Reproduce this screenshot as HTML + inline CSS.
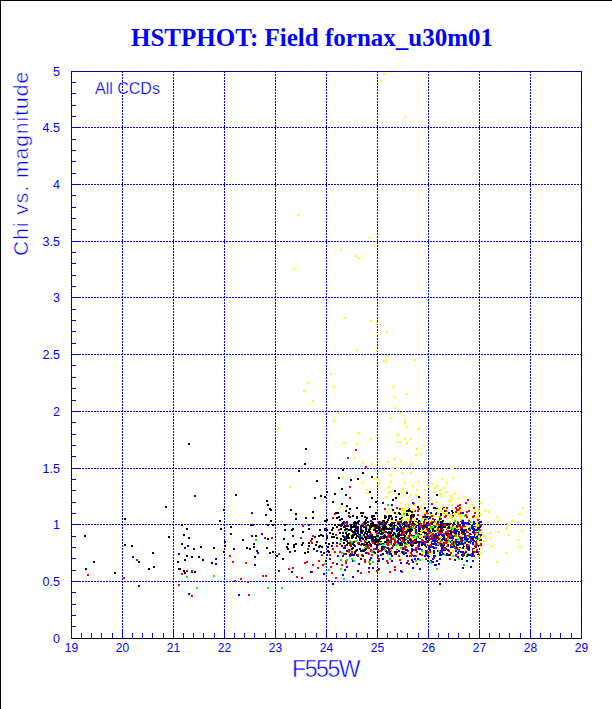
<!DOCTYPE html>
<html><head><meta charset="utf-8"><style>
html,body{margin:0;padding:0;background:#fff;width:612px;height:709px;overflow:hidden;position:relative}
.t{position:absolute;white-space:nowrap;color:#0000ff}
#all{-webkit-text-stroke:0.25px #fff}
#xlab,#ylab{-webkit-text-stroke:0.45px #fff}
#title{left:0;width:624px;text-align:center;top:23px;font-family:"Liberation Serif",serif;font-weight:bold;font-size:25px;line-height:30px}
.yl{position:absolute;left:19px;width:41px;text-align:right;font-family:"Liberation Sans",sans-serif;font-size:12.5px;line-height:16px;color:#0000ff}
.xl{position:absolute;top:640px;width:41px;text-align:center;font-family:"Liberation Sans",sans-serif;font-size:12px;line-height:16px;color:#0000ff}
#all{left:95px;top:79px;font-family:"Liberation Sans",sans-serif;font-size:16px;line-height:20px}
#xlab{left:292px;top:656px;font-family:"Liberation Sans",sans-serif;font-size:23px;line-height:26px;letter-spacing:-1.4px}
#ylab{left:9px;top:256px;transform-origin:0 0;transform:rotate(-90deg);font-family:"Liberation Sans",sans-serif;font-size:21px;line-height:24px;letter-spacing:1px}
</style></head><body>
<svg width="612" height="709" shape-rendering="crispEdges" style="position:absolute;left:0;top:0"><rect x="0" y="0" width="612" height="1" fill="#000"/><rect x="0" y="0" width="1" height="709" fill="#000"/><rect x="71" y="71" width="511" height="1" fill="#000"/><rect x="71" y="71" width="1" height="568" fill="#000"/><rect x="581" y="71" width="1" height="568" fill="#000"/><rect x="71" y="638" width="511" height="1" fill="#000"/><path d="M71.5 71V638M122.5 71V638M173.5 71V638M224.5 71V638M275.5 71V638M326.5 71V638M377.5 71V638M428.5 71V638M479.5 71V638M530.5 71V638M581.5 71V638" stroke="#0000ff" stroke-width="1" stroke-dasharray="2 1" stroke-dashoffset="0" fill="none"/><path d="M71 581.5H582M71 524.5H582M71 468.5H582M71 411.5H582M71 354.5H582M71 297.5H582M71 241.5H582M71 184.5H582M71 127.5H582M71 71.5H582" stroke="#0000ff" stroke-width="1" stroke-dasharray="2 1" stroke-dashoffset="1" fill="none"/><g fill="#0000ff"><rect x="71" y="626" width="5" height="1"/><rect x="71" y="615" width="5" height="1"/><rect x="71" y="604" width="5" height="1"/><rect x="71" y="592" width="5" height="1"/><rect x="71" y="581" width="10" height="1"/><rect x="71" y="570" width="5" height="1"/><rect x="71" y="558" width="5" height="1"/><rect x="71" y="547" width="5" height="1"/><rect x="71" y="536" width="5" height="1"/><rect x="71" y="524" width="10" height="1"/><rect x="71" y="513" width="5" height="1"/><rect x="71" y="502" width="5" height="1"/><rect x="71" y="490" width="5" height="1"/><rect x="71" y="479" width="5" height="1"/><rect x="71" y="468" width="10" height="1"/><rect x="71" y="456" width="5" height="1"/><rect x="71" y="445" width="5" height="1"/><rect x="71" y="434" width="5" height="1"/><rect x="71" y="422" width="5" height="1"/><rect x="71" y="411" width="10" height="1"/><rect x="71" y="400" width="5" height="1"/><rect x="71" y="388" width="5" height="1"/><rect x="71" y="377" width="5" height="1"/><rect x="71" y="365" width="5" height="1"/><rect x="71" y="354" width="10" height="1"/><rect x="71" y="343" width="5" height="1"/><rect x="71" y="331" width="5" height="1"/><rect x="71" y="320" width="5" height="1"/><rect x="71" y="309" width="5" height="1"/><rect x="71" y="297" width="10" height="1"/><rect x="71" y="286" width="5" height="1"/><rect x="71" y="275" width="5" height="1"/><rect x="71" y="263" width="5" height="1"/><rect x="71" y="252" width="5" height="1"/><rect x="71" y="241" width="10" height="1"/><rect x="71" y="229" width="5" height="1"/><rect x="71" y="218" width="5" height="1"/><rect x="71" y="207" width="5" height="1"/><rect x="71" y="195" width="5" height="1"/><rect x="71" y="184" width="10" height="1"/><rect x="71" y="173" width="5" height="1"/><rect x="71" y="161" width="5" height="1"/><rect x="71" y="150" width="5" height="1"/><rect x="71" y="139" width="5" height="1"/><rect x="71" y="127" width="10" height="1"/><rect x="71" y="116" width="5" height="1"/><rect x="71" y="105" width="5" height="1"/><rect x="71" y="93" width="5" height="1"/><rect x="71" y="82" width="5" height="1"/><rect x="71" y="71" width="10" height="1"/><rect x="71" y="629" width="1" height="10"/><rect x="81" y="633" width="1" height="6"/><rect x="91" y="633" width="1" height="6"/><rect x="101" y="633" width="1" height="6"/><rect x="112" y="633" width="1" height="6"/><rect x="122" y="629" width="1" height="10"/><rect x="132" y="633" width="1" height="6"/><rect x="142" y="633" width="1" height="6"/><rect x="152" y="633" width="1" height="6"/><rect x="163" y="633" width="1" height="6"/><rect x="173" y="629" width="1" height="10"/><rect x="183" y="633" width="1" height="6"/><rect x="193" y="633" width="1" height="6"/><rect x="203" y="633" width="1" height="6"/><rect x="214" y="633" width="1" height="6"/><rect x="224" y="629" width="1" height="10"/><rect x="234" y="633" width="1" height="6"/><rect x="244" y="633" width="1" height="6"/><rect x="254" y="633" width="1" height="6"/><rect x="265" y="633" width="1" height="6"/><rect x="275" y="629" width="1" height="10"/><rect x="285" y="633" width="1" height="6"/><rect x="295" y="633" width="1" height="6"/><rect x="305" y="633" width="1" height="6"/><rect x="316" y="633" width="1" height="6"/><rect x="326" y="629" width="1" height="10"/><rect x="336" y="633" width="1" height="6"/><rect x="346" y="633" width="1" height="6"/><rect x="356" y="633" width="1" height="6"/><rect x="367" y="633" width="1" height="6"/><rect x="377" y="629" width="1" height="10"/><rect x="387" y="633" width="1" height="6"/><rect x="397" y="633" width="1" height="6"/><rect x="407" y="633" width="1" height="6"/><rect x="418" y="633" width="1" height="6"/><rect x="428" y="629" width="1" height="10"/><rect x="438" y="633" width="1" height="6"/><rect x="448" y="633" width="1" height="6"/><rect x="458" y="633" width="1" height="6"/><rect x="469" y="633" width="1" height="6"/><rect x="479" y="629" width="1" height="10"/><rect x="489" y="633" width="1" height="6"/><rect x="499" y="633" width="1" height="6"/><rect x="509" y="633" width="1" height="6"/><rect x="520" y="633" width="1" height="6"/><rect x="530" y="629" width="1" height="10"/><rect x="540" y="633" width="1" height="6"/><rect x="550" y="633" width="1" height="6"/><rect x="560" y="633" width="1" height="6"/><rect x="571" y="633" width="1" height="6"/><rect x="581" y="629" width="1" height="10"/></g><path fill="#f00" d="M370 550h2v2h-2z"/><path fill="#00f" d="M357 570h2v2h-2z"/><path fill="#000" d="M355 537h2v2h-2zM372 524h2v2h-2z"/><path fill="#0f0" d="M457 535h2v2h-2z"/><path fill="#000" d="M265 514h2v2h-2zM397 522h2v2h-2zM406 521h2v2h-2z"/><path fill="#ff0" d="M385 496h2v2h-2z"/><path fill="#f00" d="M336 545h2v2h-2z"/><path fill="#00f" d="M420 524h2v2h-2zM432 543h2v2h-2z"/><path fill="#000" d="M321 546h2v2h-2z"/><path fill="#00f" d="M395 553h2v2h-2z"/><path fill="#000" d="M381 546h2v2h-2zM372 542h2v2h-2zM379 527h2v2h-2zM380 537h2v2h-2z"/><path fill="#00f" d="M447 524h2v2h-2zM363 534h2v2h-2z"/><path fill="#ff0" d="M497 520h2v2h-2z"/><path fill="#000" d="M395 553h2v2h-2zM375 501h2v2h-2zM419 526h2v2h-2z"/><path fill="#f00" d="M417 533h2v2h-2z"/><path fill="#ff0" d="M401 508h2v2h-2zM373 478h2v2h-2z"/><path fill="#f00" d="M387 562h2v2h-2z"/><path fill="#000" d="M346 535h2v2h-2zM402 522h2v2h-2zM349 543h2v2h-2z"/><path fill="#0f0" d="M457 538h2v2h-2z"/><path fill="#ff0" d="M468 518h2v2h-2z"/><path fill="#f00" d="M410 527h2v2h-2zM441 524h2v2h-2z"/><path fill="#ff0" d="M461 527h2v2h-2z"/><path fill="#0f0" d="M438 520h2v2h-2z"/><path fill="#00f" d="M457 544h2v2h-2z"/><path fill="#ff0" d="M461 528h2v2h-2z"/><path fill="#00f" d="M431 541h2v2h-2z"/><path fill="#ff0" d="M438 516h2v2h-2zM438 526h2v2h-2z"/><path fill="#000" d="M270 520h2v2h-2zM345 532h2v2h-2z"/><path fill="#f00" d="M429 526h2v2h-2z"/><path fill="#00f" d="M473 526h2v2h-2z"/><path fill="#ff0" d="M388 486h2v2h-2zM438 542h2v2h-2z"/><path fill="#000" d="M382 553h2v2h-2z"/><path fill="#ff0" d="M457 547h2v2h-2zM471 526h2v2h-2zM475 522h2v2h-2z"/><path fill="#000" d="M324 528h2v2h-2zM415 523h2v2h-2zM376 530h2v2h-2z"/><path fill="#f00" d="M459 537h2v2h-2z"/><path fill="#00f" d="M352 560h2v2h-2z"/><path fill="#f00" d="M278 553h2v2h-2z"/><path fill="#ff0" d="M438 536h2v2h-2z"/><path fill="#00f" d="M455 554h2v2h-2z"/><path fill="#000" d="M379 522h2v2h-2z"/><path fill="#00f" d="M457 552h2v2h-2zM388 531h2v2h-2z"/><path fill="#ff0" d="M424 529h2v2h-2z"/><path fill="#f00" d="M345 562h2v2h-2z"/><path fill="#ff0" d="M460 532h2v2h-2z"/><path fill="#0f0" d="M267 587h2v2h-2z"/><path fill="#000" d="M374 525h2v2h-2z"/><path fill="#ff0" d="M473 528h2v2h-2z"/><path fill="#00f" d="M320 551h2v2h-2z"/><path fill="#f00" d="M461 543h2v2h-2z"/><path fill="#00f" d="M470 533h2v2h-2zM442 545h2v2h-2z"/><path fill="#ff0" d="M476 517h2v2h-2zM387 511h2v2h-2z"/><path fill="#000" d="M413 535h2v2h-2z"/><path fill="#ff0" d="M457 509h2v2h-2z"/><path fill="#f00" d="M370 549h2v2h-2zM455 507h2v2h-2z"/><path fill="#00f" d="M410 534h2v2h-2z"/><path fill="#000" d="M367 521h2v2h-2z"/><path fill="#00f" d="M451 531h2v2h-2z"/><path fill="#000" d="M442 544h2v2h-2z"/><path fill="#00f" d="M452 539h2v2h-2z"/><path fill="#000" d="M418 544h2v2h-2z"/><path fill="#f00" d="M364 549h2v2h-2z"/><path fill="#000" d="M415 529h2v2h-2z"/><path fill="#f00" d="M445 541h2v2h-2z"/><path fill="#00f" d="M443 537h2v2h-2zM432 530h2v2h-2z"/><path fill="#000" d="M408 523h2v2h-2z"/><path fill="#0f0" d="M407 527h2v2h-2z"/><path fill="#f00" d="M410 526h2v2h-2zM479 535h2v2h-2zM443 538h2v2h-2z"/><path fill="#00f" d="M423 536h2v2h-2z"/><path fill="#000" d="M326 529h2v2h-2z"/><path fill="#ff0" d="M413 519h2v2h-2z"/><path fill="#00f" d="M397 521h2v2h-2z"/><path fill="#000" d="M399 534h2v2h-2z"/><path fill="#f00" d="M403 526h2v2h-2z"/><path fill="#00f" d="M454 542h2v2h-2zM442 535h2v2h-2zM450 523h2v2h-2z"/><path fill="#000" d="M372 518h2v2h-2zM375 530h2v2h-2z"/><path fill="#ff0" d="M467 524h2v2h-2z"/><path fill="#000" d="M341 524h2v2h-2zM430 523h2v2h-2zM390 515h2v2h-2zM360 528h2v2h-2z"/><path fill="#0f0" d="M281 587h2v2h-2zM364 547h2v2h-2z"/><path fill="#ff0" d="M467 530h2v2h-2z"/><path fill="#000" d="M339 532h2v2h-2z"/><path fill="#00f" d="M445 532h2v2h-2zM433 550h2v2h-2z"/><path fill="#000" d="M437 544h2v2h-2zM353 544h2v2h-2z"/><path fill="#ff0" d="M397 467h2v2h-2z"/><path fill="#00f" d="M406 492h2v2h-2zM191 571h2v2h-2z"/><path fill="#f00" d="M413 525h2v2h-2z"/><path fill="#00f" d="M360 535h2v2h-2z"/><path fill="#000" d="M394 525h2v2h-2z"/><path fill="#ff0" d="M506 527h2v2h-2z"/><path fill="#f00" d="M442 529h2v2h-2z"/><path fill="#ff0" d="M433 522h2v2h-2zM430 513h2v2h-2z"/><path fill="#f00" d="M136 559h2v2h-2z"/><path fill="#00f" d="M376 545h2v2h-2z"/><path fill="#0f0" d="M368 561h2v2h-2z"/><path fill="#ff0" d="M454 527h2v2h-2zM449 500h2v2h-2z"/><path fill="#f00" d="M394 539h2v2h-2z"/><path fill="#000" d="M307 551h2v2h-2z"/><path fill="#00f" d="M385 528h2v2h-2z"/><path fill="#ff0" d="M476 532h2v2h-2z"/><path fill="#000" d="M391 529h2v2h-2zM350 553h2v2h-2zM424 516h2v2h-2z"/><path fill="#00f" d="M467 530h2v2h-2z"/><path fill="#000" d="M418 529h2v2h-2zM267 524h2v2h-2z"/><path fill="#f00" d="M271 537h2v2h-2z"/><path fill="#00f" d="M350 527h2v2h-2z"/><path fill="#000" d="M386 527h2v2h-2z"/><path fill="#ff0" d="M488 511h2v2h-2z"/><path fill="#00f" d="M466 555h2v2h-2z"/><path fill="#f00" d="M371 550h2v2h-2zM426 552h2v2h-2z"/><path fill="#00f" d="M480 534h2v2h-2z"/><path fill="#000" d="M284 524h2v2h-2z"/><path fill="#0f0" d="M466 538h2v2h-2z"/><path fill="#ff0" d="M398 521h2v2h-2z"/><path fill="#00f" d="M391 504h2v2h-2z"/><path fill="#000" d="M332 527h2v2h-2z"/><path fill="#ff0" d="M471 504h2v2h-2z"/><path fill="#f00" d="M400 520h2v2h-2z"/><path fill="#0f0" d="M361 535h2v2h-2z"/><path fill="#000" d="M477 529h2v2h-2zM412 528h2v2h-2z"/><path fill="#0f0" d="M411 554h2v2h-2z"/><path fill="#000" d="M364 540h2v2h-2z"/><path fill="#f00" d="M446 527h2v2h-2z"/><path fill="#000" d="M369 525h2v2h-2z"/><path fill="#f00" d="M459 504h2v2h-2z"/><path fill="#00f" d="M401 551h2v2h-2z"/><path fill="#000" d="M444 542h2v2h-2zM429 528h2v2h-2z"/><path fill="#f00" d="M410 534h2v2h-2z"/><path fill="#00f" d="M418 543h2v2h-2z"/><path fill="#000" d="M346 521h2v2h-2z"/><path fill="#f00" d="M386 547h2v2h-2z"/><path fill="#000" d="M366 536h2v2h-2z"/><path fill="#0f0" d="M434 540h2v2h-2z"/><path fill="#f00" d="M478 518h2v2h-2z"/><path fill="#000" d="M419 522h2v2h-2z"/><path fill="#00f" d="M430 560h2v2h-2z"/><path fill="#000" d="M333 536h2v2h-2z"/><path fill="#ff0" d="M397 434h2v2h-2z"/><path fill="#00f" d="M386 527h2v2h-2zM459 537h2v2h-2zM473 536h2v2h-2zM428 529h2v2h-2z"/><path fill="#000" d="M253 546h2v2h-2z"/><path fill="#00f" d="M377 555h2v2h-2z"/><path fill="#000" d="M356 549h2v2h-2z"/><path fill="#f00" d="M466 535h2v2h-2z"/><path fill="#00f" d="M466 546h2v2h-2zM455 540h2v2h-2z"/><path fill="#ff0" d="M433 527h2v2h-2z"/><path fill="#f00" d="M394 566h2v2h-2z"/><path fill="#0f0" d="M462 536h2v2h-2z"/><path fill="#00f" d="M428 555h2v2h-2z"/><path fill="#ff0" d="M460 532h2v2h-2z"/><path fill="#f00" d="M373 548h2v2h-2z"/><path fill="#00f" d="M472 548h2v2h-2z"/><path fill="#000" d="M429 539h2v2h-2zM357 528h2v2h-2z"/><path fill="#00f" d="M452 542h2v2h-2z"/><path fill="#000" d="M364 516h2v2h-2z"/><path fill="#00f" d="M466 547h2v2h-2z"/><path fill="#f00" d="M345 560h2v2h-2zM350 545h2v2h-2zM417 547h2v2h-2z"/><path fill="#0f0" d="M467 553h2v2h-2z"/><path fill="#00f" d="M355 528h2v2h-2z"/><path fill="#000" d="M325 542h2v2h-2zM357 526h2v2h-2zM443 524h2v2h-2z"/><path fill="#f00" d="M479 533h2v2h-2z"/><path fill="#000" d="M223 551h2v2h-2zM392 527h2v2h-2zM372 524h2v2h-2z"/><path fill="#ff0" d="M459 529h2v2h-2z"/><path fill="#00f" d="M424 526h2v2h-2z"/><path fill="#000" d="M406 555h2v2h-2zM463 554h2v2h-2zM473 522h2v2h-2z"/><path fill="#ff0" d="M458 530h2v2h-2zM356 540h2v2h-2z"/><path fill="#000" d="M324 496h2v2h-2z"/><path fill="#00f" d="M464 525h2v2h-2z"/><path fill="#f00" d="M446 534h2v2h-2z"/><path fill="#00f" d="M440 550h2v2h-2z"/><path fill="#000" d="M331 529h2v2h-2zM418 527h2v2h-2zM375 531h2v2h-2z"/><path fill="#f00" d="M473 555h2v2h-2z"/><path fill="#000" d="M418 496h2v2h-2zM399 542h2v2h-2zM327 546h2v2h-2z"/><path fill="#f00" d="M344 526h2v2h-2z"/><path fill="#000" d="M371 526h2v2h-2z"/><path fill="#f00" d="M335 577h2v2h-2z"/><path fill="#000" d="M93 561h2v2h-2z"/><path fill="#00f" d="M476 524h2v2h-2zM456 521h2v2h-2z"/><path fill="#000" d="M449 522h2v2h-2z"/><path fill="#f00" d="M449 554h2v2h-2z"/><path fill="#00f" d="M478 522h2v2h-2z"/><path fill="#0f0" d="M478 534h2v2h-2z"/><path fill="#ff0" d="M342 477h2v2h-2zM358 257h2v2h-2z"/><path fill="#0f0" d="M389 558h2v2h-2z"/><path fill="#f00" d="M444 547h2v2h-2zM312 535h2v2h-2z"/><path fill="#000" d="M366 542h2v2h-2z"/><path fill="#f00" d="M262 575h2v2h-2z"/><path fill="#0f0" d="M255 539h2v2h-2z"/><path fill="#ff0" d="M459 542h2v2h-2z"/><path fill="#000" d="M385 526h2v2h-2zM428 547h2v2h-2z"/><path fill="#f00" d="M432 539h2v2h-2z"/><path fill="#000" d="M365 519h2v2h-2zM340 528h2v2h-2zM357 478h2v2h-2z"/><path fill="#f00" d="M457 535h2v2h-2z"/><path fill="#00f" d="M451 527h2v2h-2z"/><path fill="#ff0" d="M483 535h2v2h-2z"/><path fill="#000" d="M415 537h2v2h-2z"/><path fill="#0f0" d="M213 575h2v2h-2z"/><path fill="#00f" d="M329 558h2v2h-2z"/><path fill="#000" d="M430 528h2v2h-2z"/><path fill="#f00" d="M390 523h2v2h-2z"/><path fill="#00f" d="M443 536h2v2h-2z"/><path fill="#0f0" d="M464 515h2v2h-2z"/><path fill="#000" d="M378 525h2v2h-2z"/><path fill="#ff0" d="M408 519h2v2h-2z"/><path fill="#f00" d="M404 544h2v2h-2z"/><path fill="#ff0" d="M487 521h2v2h-2z"/><path fill="#000" d="M375 541h2v2h-2z"/><path fill="#ff0" d="M431 526h2v2h-2zM451 525h2v2h-2z"/><path fill="#000" d="M399 524h2v2h-2zM477 551h2v2h-2zM394 551h2v2h-2z"/><path fill="#00f" d="M476 539h2v2h-2z"/><path fill="#0f0" d="M478 530h2v2h-2z"/><path fill="#000" d="M362 512h2v2h-2zM213 547h2v2h-2z"/><path fill="#0f0" d="M477 536h2v2h-2z"/><path fill="#000" d="M429 534h2v2h-2zM430 546h2v2h-2z"/><path fill="#f00" d="M376 534h2v2h-2zM447 545h2v2h-2z"/><path fill="#ff0" d="M442 538h2v2h-2z"/><path fill="#00f" d="M374 552h2v2h-2z"/><path fill="#f00" d="M424 541h2v2h-2z"/><path fill="#00f" d="M396 541h2v2h-2z"/><path fill="#000" d="M466 516h2v2h-2zM402 530h2v2h-2zM224 541h2v2h-2z"/><path fill="#00f" d="M323 573h2v2h-2z"/><path fill="#f00" d="M458 540h2v2h-2z"/><path fill="#00f" d="M430 532h2v2h-2zM450 535h2v2h-2z"/><path fill="#ff0" d="M471 532h2v2h-2z"/><path fill="#f00" d="M451 523h2v2h-2z"/><path fill="#ff0" d="M474 510h2v2h-2z"/><path fill="#00f" d="M476 536h2v2h-2z"/><path fill="#000" d="M369 531h2v2h-2z"/><path fill="#f00" d="M296 576h2v2h-2z"/><path fill="#000" d="M411 523h2v2h-2zM432 535h2v2h-2z"/><path fill="#0f0" d="M383 543h2v2h-2z"/><path fill="#000" d="M344 529h2v2h-2z"/><path fill="#0f0" d="M341 552h2v2h-2z"/><path fill="#000" d="M422 531h2v2h-2z"/><path fill="#00f" d="M462 522h2v2h-2z"/><path fill="#f00" d="M386 560h2v2h-2z"/><path fill="#000" d="M341 545h2v2h-2z"/><path fill="#00f" d="M238 594h2v2h-2zM463 553h2v2h-2zM404 539h2v2h-2z"/><path fill="#f00" d="M476 536h2v2h-2zM426 530h2v2h-2z"/><path fill="#000" d="M409 539h2v2h-2z"/><path fill="#f00" d="M390 553h2v2h-2zM433 555h2v2h-2z"/><path fill="#00f" d="M336 563h2v2h-2z"/><path fill="#ff0" d="M478 510h2v2h-2z"/><path fill="#f00" d="M354 551h2v2h-2z"/><path fill="#ff0" d="M468 523h2v2h-2z"/><path fill="#0f0" d="M350 549h2v2h-2z"/><path fill="#f00" d="M123 577h2v2h-2z"/><path fill="#000" d="M423 541h2v2h-2z"/><path fill="#f00" d="M465 530h2v2h-2z"/><path fill="#000" d="M360 512h2v2h-2z"/><path fill="#00f" d="M374 539h2v2h-2zM344 569h2v2h-2zM343 536h2v2h-2z"/><path fill="#000" d="M379 538h2v2h-2zM447 532h2v2h-2zM373 529h2v2h-2zM365 538h2v2h-2zM418 536h2v2h-2z"/><path fill="#ff0" d="M293 268h2v2h-2zM421 519h2v2h-2z"/><path fill="#00f" d="M278 570h2v2h-2z"/><path fill="#f00" d="M353 522h2v2h-2z"/><path fill="#000" d="M425 546h2v2h-2z"/><path fill="#0f0" d="M388 544h2v2h-2z"/><path fill="#f00" d="M395 526h2v2h-2z"/><path fill="#00f" d="M445 533h2v2h-2zM447 544h2v2h-2zM464 543h2v2h-2z"/><path fill="#f00" d="M384 546h2v2h-2zM419 537h2v2h-2z"/><path fill="#00f" d="M360 550h2v2h-2z"/><path fill="#000" d="M412 522h2v2h-2z"/><path fill="#f00" d="M344 553h2v2h-2z"/><path fill="#000" d="M295 513h2v2h-2z"/><path fill="#00f" d="M420 541h2v2h-2z"/><path fill="#000" d="M380 541h2v2h-2z"/><path fill="#f00" d="M312 564h2v2h-2z"/><path fill="#000" d="M302 531h2v2h-2z"/><path fill="#f00" d="M264 537h2v2h-2z"/><path fill="#ff0" d="M470 553h2v2h-2z"/><path fill="#f00" d="M405 546h2v2h-2z"/><path fill="#000" d="M362 538h2v2h-2zM341 545h2v2h-2zM378 532h2v2h-2zM436 508h2v2h-2z"/><path fill="#ff0" d="M467 539h2v2h-2z"/><path fill="#f00" d="M435 544h2v2h-2z"/><path fill="#00f" d="M458 522h2v2h-2zM370 544h2v2h-2z"/><path fill="#000" d="M327 550h2v2h-2z"/><path fill="#ff0" d="M456 522h2v2h-2z"/><path fill="#000" d="M153 566h2v2h-2z"/><path fill="#f00" d="M444 534h2v2h-2z"/><path fill="#000" d="M346 534h2v2h-2zM412 522h2v2h-2zM466 542h2v2h-2z"/><path fill="#ff0" d="M450 514h2v2h-2z"/><path fill="#00f" d="M436 540h2v2h-2z"/><path fill="#f00" d="M369 537h2v2h-2z"/><path fill="#000" d="M385 516h2v2h-2z"/><path fill="#00f" d="M324 529h2v2h-2z"/><path fill="#ff0" d="M422 517h2v2h-2zM433 469h2v2h-2z"/><path fill="#000" d="M338 516h2v2h-2zM287 543h2v2h-2z"/><path fill="#ff0" d="M408 522h2v2h-2z"/><path fill="#f00" d="M449 533h2v2h-2z"/><path fill="#000" d="M382 526h2v2h-2z"/><path fill="#ff0" d="M446 531h2v2h-2z"/><path fill="#000" d="M421 531h2v2h-2zM378 543h2v2h-2z"/><path fill="#f00" d="M410 544h2v2h-2zM474 512h2v2h-2z"/><path fill="#000" d="M368 544h2v2h-2z"/><path fill="#00f" d="M468 522h2v2h-2z"/><path fill="#ff0" d="M396 441h2v2h-2z"/><path fill="#f00" d="M404 545h2v2h-2z"/><path fill="#000" d="M405 510h2v2h-2zM448 522h2v2h-2z"/><path fill="#00f" d="M426 554h2v2h-2z"/><path fill="#ff0" d="M277 427h2v2h-2z"/><path fill="#0f0" d="M472 538h2v2h-2z"/><path fill="#00f" d="M449 523h2v2h-2zM430 545h2v2h-2z"/><path fill="#f00" d="M414 510h2v2h-2z"/><path fill="#000" d="M476 535h2v2h-2z"/><path fill="#0f0" d="M440 537h2v2h-2z"/><path fill="#f00" d="M393 537h2v2h-2z"/><path fill="#0f0" d="M387 553h2v2h-2z"/><path fill="#ff0" d="M400 553h2v2h-2z"/><path fill="#f00" d="M453 529h2v2h-2z"/><path fill="#000" d="M441 547h2v2h-2zM443 549h2v2h-2z"/><path fill="#00f" d="M392 522h2v2h-2z"/><path fill="#f00" d="M437 523h2v2h-2zM407 535h2v2h-2zM439 533h2v2h-2z"/><path fill="#ff0" d="M452 528h2v2h-2z"/><path fill="#f00" d="M396 549h2v2h-2z"/><path fill="#0f0" d="M367 527h2v2h-2z"/><path fill="#ff0" d="M446 507h2v2h-2z"/><path fill="#00f" d="M435 539h2v2h-2z"/><path fill="#0f0" d="M400 544h2v2h-2z"/><path fill="#f00" d="M421 541h2v2h-2z"/><path fill="#ff0" d="M465 550h2v2h-2z"/><path fill="#00f" d="M314 536h2v2h-2z"/><path fill="#0f0" d="M451 524h2v2h-2z"/><path fill="#00f" d="M345 528h2v2h-2z"/><path fill="#ff0" d="M429 554h2v2h-2z"/><path fill="#f00" d="M415 555h2v2h-2z"/><path fill="#00f" d="M470 542h2v2h-2z"/><path fill="#000" d="M193 548h2v2h-2zM366 517h2v2h-2z"/><path fill="#00f" d="M450 538h2v2h-2z"/><path fill="#000" d="M458 522h2v2h-2zM114 572h2v2h-2z"/><path fill="#0f0" d="M464 530h2v2h-2z"/><path fill="#f00" d="M349 497h2v2h-2zM376 532h2v2h-2z"/><path fill="#000" d="M387 532h2v2h-2z"/><path fill="#f00" d="M278 553h2v2h-2z"/><path fill="#ff0" d="M362 482h2v2h-2z"/><path fill="#00f" d="M439 553h2v2h-2zM476 524h2v2h-2z"/><path fill="#000" d="M394 490h2v2h-2z"/><path fill="#f00" d="M186 570h2v2h-2z"/><path fill="#00f" d="M468 535h2v2h-2z"/><path fill="#000" d="M425 552h2v2h-2z"/><path fill="#f00" d="M379 549h2v2h-2z"/><path fill="#00f" d="M408 526h2v2h-2z"/><path fill="#000" d="M375 538h2v2h-2z"/><path fill="#f00" d="M455 528h2v2h-2zM240 578h2v2h-2z"/><path fill="#ff0" d="M423 512h2v2h-2zM480 502h2v2h-2z"/><path fill="#000" d="M308 545h2v2h-2zM432 528h2v2h-2z"/><path fill="#f00" d="M478 532h2v2h-2z"/><path fill="#00f" d="M472 526h2v2h-2z"/><path fill="#000" d="M345 494h2v2h-2z"/><path fill="#0f0" d="M355 540h2v2h-2z"/><path fill="#f00" d="M371 521h2v2h-2z"/><path fill="#00f" d="M372 542h2v2h-2z"/><path fill="#f00" d="M420 536h2v2h-2z"/><path fill="#ff0" d="M453 532h2v2h-2z"/><path fill="#f00" d="M404 540h2v2h-2z"/><path fill="#000" d="M381 524h2v2h-2z"/><path fill="#ff0" d="M441 478h2v2h-2zM468 544h2v2h-2z"/><path fill="#f00" d="M386 538h2v2h-2z"/><path fill="#ff0" d="M447 513h2v2h-2z"/><path fill="#00f" d="M390 524h2v2h-2zM386 543h2v2h-2zM348 537h2v2h-2z"/><path fill="#f00" d="M422 541h2v2h-2z"/><path fill="#000" d="M293 546h2v2h-2z"/><path fill="#f00" d="M466 547h2v2h-2z"/><path fill="#00f" d="M436 544h2v2h-2z"/><path fill="#ff0" d="M406 518h2v2h-2zM404 504h2v2h-2z"/><path fill="#000" d="M334 493h2v2h-2z"/><path fill="#0f0" d="M451 527h2v2h-2z"/><path fill="#f00" d="M410 543h2v2h-2z"/><path fill="#00f" d="M395 544h2v2h-2zM472 560h2v2h-2z"/><path fill="#f00" d="M338 529h2v2h-2z"/><path fill="#00f" d="M215 558h2v2h-2z"/><path fill="#000" d="M414 539h2v2h-2zM286 546h2v2h-2zM415 542h2v2h-2z"/><path fill="#00f" d="M462 567h2v2h-2z"/><path fill="#000" d="M357 522h2v2h-2z"/><path fill="#00f" d="M452 535h2v2h-2zM423 541h2v2h-2zM418 545h2v2h-2z"/><path fill="#000" d="M384 528h2v2h-2z"/><path fill="#00f" d="M384 535h2v2h-2z"/><path fill="#f00" d="M439 542h2v2h-2z"/><path fill="#000" d="M425 542h2v2h-2z"/><path fill="#00f" d="M449 535h2v2h-2z"/><path fill="#ff0" d="M456 535h2v2h-2z"/><path fill="#000" d="M442 508h2v2h-2zM395 497h2v2h-2z"/><path fill="#f00" d="M378 529h2v2h-2z"/><path fill="#0f0" d="M476 543h2v2h-2z"/><path fill="#000" d="M459 531h2v2h-2z"/><path fill="#00f" d="M457 554h2v2h-2z"/><path fill="#0f0" d="M369 533h2v2h-2z"/><path fill="#f00" d="M432 539h2v2h-2z"/><path fill="#000" d="M452 512h2v2h-2zM394 522h2v2h-2z"/><path fill="#00f" d="M405 524h2v2h-2z"/><path fill="#000" d="M389 536h2v2h-2zM358 534h2v2h-2z"/><path fill="#ff0" d="M417 508h2v2h-2z"/><path fill="#f00" d="M365 552h2v2h-2z"/><path fill="#ff0" d="M508 524h2v2h-2z"/><path fill="#00f" d="M450 546h2v2h-2z"/><path fill="#ff0" d="M379 548h2v2h-2z"/><path fill="#f00" d="M465 502h2v2h-2zM317 567h2v2h-2zM422 516h2v2h-2z"/><path fill="#000" d="M361 537h2v2h-2z"/><path fill="#f00" d="M452 515h2v2h-2z"/><path fill="#ff0" d="M425 523h2v2h-2z"/><path fill="#0f0" d="M452 555h2v2h-2z"/><path fill="#00f" d="M441 549h2v2h-2zM478 545h2v2h-2zM399 531h2v2h-2z"/><path fill="#f00" d="M410 552h2v2h-2z"/><path fill="#ff0" d="M457 508h2v2h-2z"/><path fill="#00f" d="M381 549h2v2h-2zM417 558h2v2h-2z"/><path fill="#000" d="M409 528h2v2h-2z"/><path fill="#00f" d="M400 521h2v2h-2zM396 526h2v2h-2z"/><path fill="#f00" d="M407 525h2v2h-2z"/><path fill="#000" d="M463 539h2v2h-2z"/><path fill="#00f" d="M400 539h2v2h-2z"/><path fill="#000" d="M429 533h2v2h-2zM387 528h2v2h-2zM412 524h2v2h-2zM416 524h2v2h-2z"/><path fill="#00f" d="M358 520h2v2h-2z"/><path fill="#ff0" d="M505 528h2v2h-2zM467 536h2v2h-2z"/><path fill="#00f" d="M431 533h2v2h-2z"/><path fill="#000" d="M382 525h2v2h-2zM319 545h2v2h-2z"/><path fill="#f00" d="M401 521h2v2h-2z"/><path fill="#000" d="M399 544h2v2h-2z"/><path fill="#00f" d="M457 525h2v2h-2z"/><path fill="#ff0" d="M377 479h2v2h-2z"/><path fill="#f00" d="M404 537h2v2h-2z"/><path fill="#ff0" d="M380 542h2v2h-2z"/><path fill="#000" d="M448 554h2v2h-2zM375 530h2v2h-2z"/><path fill="#ff0" d="M413 527h2v2h-2z"/><path fill="#f00" d="M404 548h2v2h-2z"/><path fill="#00f" d="M457 528h2v2h-2z"/><path fill="#000" d="M410 538h2v2h-2z"/><path fill="#00f" d="M434 519h2v2h-2z"/><path fill="#0f0" d="M410 520h2v2h-2z"/><path fill="#f00" d="M343 553h2v2h-2zM406 537h2v2h-2z"/><path fill="#000" d="M436 512h2v2h-2z"/><path fill="#ff0" d="M444 534h2v2h-2z"/><path fill="#f00" d="M430 551h2v2h-2zM441 551h2v2h-2z"/><path fill="#000" d="M434 539h2v2h-2z"/><path fill="#00f" d="M412 544h2v2h-2z"/><path fill="#000" d="M371 534h2v2h-2z"/><path fill="#00f" d="M401 543h2v2h-2z"/><path fill="#000" d="M423 525h2v2h-2z"/><path fill="#ff0" d="M405 541h2v2h-2z"/><path fill="#000" d="M402 527h2v2h-2z"/><path fill="#00f" d="M411 535h2v2h-2zM448 512h2v2h-2z"/><path fill="#f00" d="M458 525h2v2h-2z"/><path fill="#000" d="M374 529h2v2h-2zM415 533h2v2h-2z"/><path fill="#f00" d="M355 449h2v2h-2z"/><path fill="#000" d="M352 543h2v2h-2z"/><path fill="#f00" d="M421 554h2v2h-2z"/><path fill="#00f" d="M460 551h2v2h-2z"/><path fill="#000" d="M230 533h2v2h-2z"/><path fill="#00f" d="M397 544h2v2h-2z"/><path fill="#f00" d="M362 549h2v2h-2zM448 537h2v2h-2zM454 540h2v2h-2z"/><path fill="#ff0" d="M410 472h2v2h-2z"/><path fill="#000" d="M379 528h2v2h-2zM429 527h2v2h-2z"/><path fill="#f00" d="M377 569h2v2h-2z"/><path fill="#000" d="M389 542h2v2h-2zM295 543h2v2h-2z"/><path fill="#f00" d="M332 517h2v2h-2z"/><path fill="#000" d="M328 543h2v2h-2z"/><path fill="#ff0" d="M400 528h2v2h-2z"/><path fill="#00f" d="M465 544h2v2h-2z"/><path fill="#0f0" d="M324 563h2v2h-2zM429 551h2v2h-2z"/><path fill="#f00" d="M453 535h2v2h-2zM407 533h2v2h-2z"/><path fill="#000" d="M325 560h2v2h-2z"/><path fill="#00f" d="M380 543h2v2h-2z"/><path fill="#000" d="M352 547h2v2h-2z"/><path fill="#00f" d="M429 540h2v2h-2z"/><path fill="#f00" d="M245 562h2v2h-2z"/><path fill="#00f" d="M454 529h2v2h-2z"/><path fill="#000" d="M316 541h2v2h-2z"/><path fill="#f00" d="M478 553h2v2h-2z"/><path fill="#000" d="M414 542h2v2h-2z"/><path fill="#ff0" d="M333 386h2v2h-2z"/><path fill="#00f" d="M423 543h2v2h-2z"/><path fill="#000" d="M311 538h2v2h-2zM358 542h2v2h-2z"/><path fill="#00f" d="M391 537h2v2h-2z"/><path fill="#ff0" d="M455 521h2v2h-2z"/><path fill="#000" d="M372 522h2v2h-2z"/><path fill="#00f" d="M447 531h2v2h-2zM251 535h2v2h-2z"/><path fill="#ff0" d="M424 547h2v2h-2z"/><path fill="#000" d="M316 480h2v2h-2zM407 541h2v2h-2z"/><path fill="#f00" d="M348 551h2v2h-2z"/><path fill="#000" d="M315 544h2v2h-2z"/><path fill="#00f" d="M411 548h2v2h-2z"/><path fill="#000" d="M393 543h2v2h-2zM398 522h2v2h-2z"/><path fill="#00f" d="M446 553h2v2h-2z"/><path fill="#ff0" d="M375 543h2v2h-2z"/><path fill="#000" d="M445 524h2v2h-2z"/><path fill="#ff0" d="M394 396h2v2h-2z"/><path fill="#000" d="M322 535h2v2h-2z"/><path fill="#00f" d="M468 533h2v2h-2z"/><path fill="#0f0" d="M444 554h2v2h-2z"/><path fill="#ff0" d="M479 542h2v2h-2z"/><path fill="#000" d="M463 554h2v2h-2z"/><path fill="#00f" d="M450 531h2v2h-2z"/><path fill="#000" d="M343 542h2v2h-2z"/><path fill="#ff0" d="M433 553h2v2h-2zM447 537h2v2h-2zM404 422h2v2h-2z"/><path fill="#00f" d="M473 521h2v2h-2z"/><path fill="#ff0" d="M409 438h2v2h-2zM459 539h2v2h-2z"/><path fill="#00f" d="M475 551h2v2h-2z"/><path fill="#ff0" d="M376 333h2v2h-2z"/><path fill="#00f" d="M408 530h2v2h-2z"/><path fill="#000" d="M340 539h2v2h-2z"/><path fill="#f00" d="M425 558h2v2h-2z"/><path fill="#00f" d="M434 535h2v2h-2zM462 551h2v2h-2z"/><path fill="#000" d="M191 556h2v2h-2z"/><path fill="#00f" d="M391 560h2v2h-2z"/><path fill="#000" d="M408 525h2v2h-2zM276 555h2v2h-2z"/><path fill="#f00" d="M398 555h2v2h-2z"/><path fill="#00f" d="M443 522h2v2h-2z"/><path fill="#0f0" d="M438 543h2v2h-2z"/><path fill="#f00" d="M435 539h2v2h-2z"/><path fill="#ff0" d="M462 522h2v2h-2zM423 543h2v2h-2zM463 526h2v2h-2z"/><path fill="#000" d="M403 532h2v2h-2z"/><path fill="#ff0" d="M459 516h2v2h-2z"/><path fill="#00f" d="M368 541h2v2h-2zM411 524h2v2h-2z"/><path fill="#000" d="M272 551h2v2h-2z"/><path fill="#00f" d="M346 521h2v2h-2zM336 542h2v2h-2z"/><path fill="#ff0" d="M356 349h2v2h-2zM420 535h2v2h-2z"/><path fill="#000" d="M224 545h2v2h-2zM266 500h2v2h-2z"/><path fill="#ff0" d="M392 386h2v2h-2z"/><path fill="#000" d="M398 529h2v2h-2z"/><path fill="#ff0" d="M447 528h2v2h-2z"/><path fill="#000" d="M235 494h2v2h-2z"/><path fill="#00f" d="M466 543h2v2h-2z"/><path fill="#000" d="M409 528h2v2h-2zM346 529h2v2h-2z"/><path fill="#ff0" d="M344 317h2v2h-2z"/><path fill="#000" d="M447 544h2v2h-2z"/><path fill="#f00" d="M403 551h2v2h-2z"/><path fill="#00f" d="M278 570h2v2h-2z"/><path fill="#ff0" d="M420 528h2v2h-2z"/><path fill="#f00" d="M403 531h2v2h-2z"/><path fill="#000" d="M414 523h2v2h-2z"/><path fill="#ff0" d="M450 536h2v2h-2z"/><path fill="#f00" d="M472 553h2v2h-2zM426 550h2v2h-2zM412 542h2v2h-2z"/><path fill="#000" d="M352 526h2v2h-2z"/><path fill="#ff0" d="M462 511h2v2h-2zM453 542h2v2h-2z"/><path fill="#00f" d="M390 540h2v2h-2z"/><path fill="#ff0" d="M465 524h2v2h-2z"/><path fill="#f00" d="M377 549h2v2h-2z"/><path fill="#ff0" d="M420 453h2v2h-2z"/><path fill="#000" d="M377 538h2v2h-2z"/><path fill="#00f" d="M472 539h2v2h-2z"/><path fill="#0f0" d="M477 525h2v2h-2z"/><path fill="#000" d="M340 538h2v2h-2zM373 551h2v2h-2z"/><path fill="#f00" d="M467 544h2v2h-2z"/><path fill="#ff0" d="M393 458h2v2h-2z"/><path fill="#00f" d="M433 555h2v2h-2zM425 531h2v2h-2z"/><path fill="#0f0" d="M453 534h2v2h-2z"/><path fill="#00f" d="M454 530h2v2h-2z"/><path fill="#f00" d="M435 547h2v2h-2z"/><path fill="#00f" d="M427 560h2v2h-2z"/><path fill="#f00" d="M344 545h2v2h-2zM463 525h2v2h-2z"/><path fill="#ff0" d="M443 522h2v2h-2z"/><path fill="#f00" d="M437 535h2v2h-2z"/><path fill="#00f" d="M353 533h2v2h-2zM458 522h2v2h-2z"/><path fill="#000" d="M379 527h2v2h-2zM407 540h2v2h-2z"/><path fill="#ff0" d="M406 523h2v2h-2z"/><path fill="#000" d="M446 533h2v2h-2z"/><path fill="#f00" d="M447 526h2v2h-2z"/><path fill="#000" d="M356 507h2v2h-2z"/><path fill="#f00" d="M460 521h2v2h-2z"/><path fill="#0f0" d="M461 537h2v2h-2z"/><path fill="#000" d="M453 544h2v2h-2zM407 543h2v2h-2zM270 509h2v2h-2zM474 534h2v2h-2z"/><path fill="#f00" d="M322 564h2v2h-2z"/><path fill="#ff0" d="M441 537h2v2h-2z"/><path fill="#00f" d="M471 555h2v2h-2z"/><path fill="#000" d="M398 512h2v2h-2zM352 536h2v2h-2zM428 531h2v2h-2z"/><path fill="#0f0" d="M371 541h2v2h-2z"/><path fill="#000" d="M426 516h2v2h-2z"/><path fill="#00f" d="M465 542h2v2h-2z"/><path fill="#0f0" d="M402 541h2v2h-2z"/><path fill="#00f" d="M401 532h2v2h-2z"/><path fill="#ff0" d="M402 510h2v2h-2z"/><path fill="#f00" d="M419 553h2v2h-2z"/><path fill="#ff0" d="M466 532h2v2h-2z"/><path fill="#000" d="M188 443h2v2h-2z"/><path fill="#00f" d="M480 521h2v2h-2z"/><path fill="#000" d="M148 568h2v2h-2z"/><path fill="#ff0" d="M410 463h2v2h-2z"/><path fill="#00f" d="M457 556h2v2h-2zM464 533h2v2h-2z"/><path fill="#ff0" d="M466 542h2v2h-2zM367 492h2v2h-2zM394 407h2v2h-2z"/><path fill="#000" d="M179 568h2v2h-2z"/><path fill="#f00" d="M399 508h2v2h-2z"/><path fill="#ff0" d="M452 523h2v2h-2z"/><path fill="#00f" d="M367 536h2v2h-2z"/><path fill="#ff0" d="M343 442h2v2h-2z"/><path fill="#00f" d="M404 539h2v2h-2zM451 529h2v2h-2zM439 554h2v2h-2z"/><path fill="#000" d="M354 552h2v2h-2z"/><path fill="#ff0" d="M436 509h2v2h-2z"/><path fill="#0f0" d="M358 535h2v2h-2z"/><path fill="#000" d="M445 539h2v2h-2zM384 541h2v2h-2z"/><path fill="#f00" d="M430 521h2v2h-2z"/><path fill="#000" d="M402 524h2v2h-2z"/><path fill="#f00" d="M382 522h2v2h-2z"/><path fill="#000" d="M385 550h2v2h-2z"/><path fill="#00f" d="M467 531h2v2h-2zM475 525h2v2h-2z"/><path fill="#f00" d="M425 542h2v2h-2z"/><path fill="#0f0" d="M466 540h2v2h-2z"/><path fill="#000" d="M390 528h2v2h-2zM411 514h2v2h-2z"/><path fill="#f00" d="M471 553h2v2h-2z"/><path fill="#000" d="M371 534h2v2h-2z"/><path fill="#f00" d="M445 515h2v2h-2z"/><path fill="#0f0" d="M365 540h2v2h-2z"/><path fill="#f00" d="M426 527h2v2h-2z"/><path fill="#ff0" d="M434 526h2v2h-2z"/><path fill="#f00" d="M440 545h2v2h-2z"/><path fill="#000" d="M441 522h2v2h-2z"/><path fill="#00f" d="M399 528h2v2h-2z"/><path fill="#f00" d="M407 550h2v2h-2z"/><path fill="#000" d="M474 529h2v2h-2z"/><path fill="#f00" d="M401 540h2v2h-2z"/><path fill="#ff0" d="M455 525h2v2h-2z"/><path fill="#000" d="M439 518h2v2h-2z"/><path fill="#0f0" d="M398 542h2v2h-2z"/><path fill="#f00" d="M472 549h2v2h-2z"/><path fill="#0f0" d="M466 554h2v2h-2z"/><path fill="#ff0" d="M418 525h2v2h-2z"/><path fill="#000" d="M419 521h2v2h-2z"/><path fill="#f00" d="M425 542h2v2h-2z"/><path fill="#0f0" d="M435 525h2v2h-2z"/><path fill="#000" d="M313 548h2v2h-2z"/><path fill="#0f0" d="M391 526h2v2h-2z"/><path fill="#f00" d="M449 527h2v2h-2z"/><path fill="#0f0" d="M444 540h2v2h-2z"/><path fill="#000" d="M382 543h2v2h-2z"/><path fill="#f00" d="M408 533h2v2h-2z"/><path fill="#00f" d="M405 538h2v2h-2zM458 533h2v2h-2zM402 552h2v2h-2z"/><path fill="#ff0" d="M421 542h2v2h-2z"/><path fill="#f00" d="M460 526h2v2h-2zM450 552h2v2h-2z"/><path fill="#0f0" d="M454 520h2v2h-2z"/><path fill="#f00" d="M450 538h2v2h-2z"/><path fill="#000" d="M426 510h2v2h-2z"/><path fill="#0f0" d="M473 550h2v2h-2z"/><path fill="#ff0" d="M465 524h2v2h-2zM416 526h2v2h-2z"/><path fill="#f00" d="M397 535h2v2h-2z"/><path fill="#ff0" d="M394 545h2v2h-2z"/><path fill="#0f0" d="M419 521h2v2h-2z"/><path fill="#f00" d="M477 519h2v2h-2z"/><path fill="#0f0" d="M452 546h2v2h-2z"/><path fill="#000" d="M336 537h2v2h-2z"/><path fill="#f00" d="M232 561h2v2h-2z"/><path fill="#000" d="M348 512h2v2h-2z"/><path fill="#f00" d="M472 538h2v2h-2z"/><path fill="#000" d="M364 536h2v2h-2z"/><path fill="#0f0" d="M477 540h2v2h-2z"/><path fill="#ff0" d="M392 511h2v2h-2z"/><path fill="#f00" d="M401 571h2v2h-2z"/><path fill="#00f" d="M390 541h2v2h-2z"/><path fill="#000" d="M152 552h2v2h-2zM407 510h2v2h-2z"/><path fill="#ff0" d="M428 475h2v2h-2zM472 543h2v2h-2z"/><path fill="#f00" d="M464 534h2v2h-2z"/><path fill="#000" d="M369 526h2v2h-2zM343 526h2v2h-2z"/><path fill="#f00" d="M450 544h2v2h-2z"/><path fill="#000" d="M340 525h2v2h-2zM381 528h2v2h-2z"/><path fill="#00f" d="M342 574h2v2h-2z"/><path fill="#0f0" d="M186 576h2v2h-2z"/><path fill="#000" d="M375 548h2v2h-2z"/><path fill="#f00" d="M407 540h2v2h-2z"/><path fill="#000" d="M272 524h2v2h-2z"/><path fill="#00f" d="M441 534h2v2h-2zM468 541h2v2h-2z"/><path fill="#000" d="M357 527h2v2h-2z"/><path fill="#ff0" d="M451 524h2v2h-2zM491 545h2v2h-2z"/><path fill="#000" d="M395 536h2v2h-2z"/><path fill="#00f" d="M452 542h2v2h-2z"/><path fill="#000" d="M403 537h2v2h-2z"/><path fill="#f00" d="M367 524h2v2h-2z"/><path fill="#00f" d="M444 544h2v2h-2z"/><path fill="#000" d="M391 530h2v2h-2zM324 520h2v2h-2z"/><path fill="#00f" d="M352 576h2v2h-2z"/><path fill="#ff0" d="M448 529h2v2h-2z"/><path fill="#00f" d="M446 544h2v2h-2z"/><path fill="#000" d="M359 539h2v2h-2z"/><path fill="#ff0" d="M480 529h2v2h-2z"/><path fill="#0f0" d="M430 562h2v2h-2z"/><path fill="#ff0" d="M340 249h2v2h-2zM417 428h2v2h-2z"/><path fill="#f00" d="M464 543h2v2h-2z"/><path fill="#00f" d="M469 533h2v2h-2z"/><path fill="#000" d="M418 544h2v2h-2z"/><path fill="#00f" d="M375 539h2v2h-2z"/><path fill="#000" d="M314 497h2v2h-2z"/><path fill="#f00" d="M432 518h2v2h-2z"/><path fill="#ff0" d="M484 510h2v2h-2z"/><path fill="#00f" d="M440 523h2v2h-2z"/><path fill="#000" d="M440 530h2v2h-2zM408 529h2v2h-2z"/><path fill="#00f" d="M252 524h2v2h-2z"/><path fill="#000" d="M378 529h2v2h-2z"/><path fill="#0f0" d="M430 535h2v2h-2z"/><path fill="#00f" d="M472 551h2v2h-2zM418 523h2v2h-2z"/><path fill="#000" d="M401 517h2v2h-2zM383 526h2v2h-2z"/><path fill="#ff0" d="M461 523h2v2h-2z"/><path fill="#f00" d="M339 543h2v2h-2z"/><path fill="#000" d="M370 536h2v2h-2zM388 515h2v2h-2z"/><path fill="#f00" d="M439 542h2v2h-2zM421 539h2v2h-2z"/><path fill="#000" d="M352 515h2v2h-2z"/><path fill="#f00" d="M302 525h2v2h-2z"/><path fill="#0f0" d="M451 544h2v2h-2z"/><path fill="#ff0" d="M383 360h2v2h-2z"/><path fill="#000" d="M410 544h2v2h-2z"/><path fill="#00f" d="M377 524h2v2h-2z"/><path fill="#000" d="M85 568h2v2h-2z"/><path fill="#ff0" d="M387 355h2v2h-2z"/><path fill="#f00" d="M364 541h2v2h-2zM403 528h2v2h-2zM365 466h2v2h-2z"/><path fill="#000" d="M369 534h2v2h-2z"/><path fill="#f00" d="M466 523h2v2h-2z"/><path fill="#00f" d="M434 564h2v2h-2zM387 539h2v2h-2z"/><path fill="#f00" d="M456 544h2v2h-2zM367 552h2v2h-2z"/><path fill="#000" d="M408 508h2v2h-2z"/><path fill="#00f" d="M184 547h2v2h-2z"/><path fill="#000" d="M368 544h2v2h-2zM397 545h2v2h-2z"/><path fill="#0f0" d="M416 536h2v2h-2z"/><path fill="#000" d="M442 525h2v2h-2z"/><path fill="#ff0" d="M416 448h2v2h-2z"/><path fill="#000" d="M345 539h2v2h-2z"/><path fill="#ff0" d="M456 527h2v2h-2z"/><path fill="#0f0" d="M415 533h2v2h-2z"/><path fill="#ff0" d="M369 237h2v2h-2z"/><path fill="#00f" d="M429 546h2v2h-2zM396 535h2v2h-2z"/><path fill="#f00" d="M459 507h2v2h-2z"/><path fill="#000" d="M390 525h2v2h-2zM425 525h2v2h-2zM391 524h2v2h-2z"/><path fill="#f00" d="M437 529h2v2h-2z"/><path fill="#00f" d="M447 537h2v2h-2z"/><path fill="#ff0" d="M511 520h2v2h-2zM431 513h2v2h-2zM443 526h2v2h-2z"/><path fill="#0f0" d="M460 542h2v2h-2z"/><path fill="#000" d="M364 544h2v2h-2z"/><path fill="#f00" d="M446 545h2v2h-2z"/><path fill="#000" d="M378 527h2v2h-2z"/><path fill="#00f" d="M457 544h2v2h-2z"/><path fill="#ff0" d="M390 474h2v2h-2z"/><path fill="#000" d="M351 536h2v2h-2z"/><path fill="#ff0" d="M390 481h2v2h-2z"/><path fill="#f00" d="M394 542h2v2h-2z"/><path fill="#000" d="M440 513h2v2h-2z"/><path fill="#ff0" d="M423 522h2v2h-2zM458 550h2v2h-2zM367 526h2v2h-2z"/><path fill="#000" d="M373 551h2v2h-2z"/><path fill="#f00" d="M480 544h2v2h-2zM234 580h2v2h-2z"/><path fill="#000" d="M381 522h2v2h-2zM412 522h2v2h-2zM350 545h2v2h-2z"/><path fill="#00f" d="M476 532h2v2h-2z"/><path fill="#000" d="M341 518h2v2h-2z"/><path fill="#00f" d="M453 543h2v2h-2z"/><path fill="#ff0" d="M394 532h2v2h-2z"/><path fill="#000" d="M223 509h2v2h-2zM302 542h2v2h-2zM359 548h2v2h-2z"/><path fill="#f00" d="M348 537h2v2h-2z"/><path fill="#ff0" d="M433 524h2v2h-2z"/><path fill="#00f" d="M388 536h2v2h-2zM461 534h2v2h-2z"/><path fill="#ff0" d="M445 527h2v2h-2zM396 550h2v2h-2z"/><path fill="#000" d="M447 524h2v2h-2z"/><path fill="#00f" d="M427 533h2v2h-2z"/><path fill="#f00" d="M181 573h2v2h-2z"/><path fill="#00f" d="M432 558h2v2h-2z"/><path fill="#ff0" d="M420 497h2v2h-2z"/><path fill="#000" d="M366 544h2v2h-2zM200 546h2v2h-2zM406 514h2v2h-2zM354 551h2v2h-2z"/><path fill="#ff0" d="M455 537h2v2h-2zM407 545h2v2h-2z"/><path fill="#00f" d="M343 521h2v2h-2z"/><path fill="#000" d="M348 533h2v2h-2zM383 524h2v2h-2z"/><path fill="#f00" d="M384 508h2v2h-2z"/><path fill="#00f" d="M430 512h2v2h-2zM433 535h2v2h-2z"/><path fill="#000" d="M389 534h2v2h-2zM361 515h2v2h-2z"/><path fill="#f00" d="M470 539h2v2h-2zM412 540h2v2h-2z"/><path fill="#000" d="M375 525h2v2h-2z"/><path fill="#f00" d="M434 521h2v2h-2zM377 544h2v2h-2zM398 521h2v2h-2z"/><path fill="#000" d="M365 552h2v2h-2z"/><path fill="#f00" d="M437 527h2v2h-2z"/><path fill="#ff0" d="M406 426h2v2h-2zM312 400h2v2h-2zM489 532h2v2h-2zM479 546h2v2h-2z"/><path fill="#f00" d="M417 514h2v2h-2z"/><path fill="#0f0" d="M455 547h2v2h-2z"/><path fill="#ff0" d="M478 517h2v2h-2z"/><path fill="#00f" d="M442 553h2v2h-2z"/><path fill="#ff0" d="M475 542h2v2h-2zM449 521h2v2h-2z"/><path fill="#f00" d="M350 542h2v2h-2z"/><path fill="#ff0" d="M449 517h2v2h-2z"/><path fill="#000" d="M342 532h2v2h-2z"/><path fill="#00f" d="M419 537h2v2h-2z"/><path fill="#f00" d="M445 542h2v2h-2z"/><path fill="#000" d="M186 555h2v2h-2z"/><path fill="#f00" d="M429 525h2v2h-2z"/><path fill="#ff0" d="M480 502h2v2h-2z"/><path fill="#00f" d="M429 546h2v2h-2z"/><path fill="#000" d="M432 530h2v2h-2z"/><path fill="#0f0" d="M382 530h2v2h-2z"/><path fill="#f00" d="M248 594h2v2h-2z"/><path fill="#000" d="M411 542h2v2h-2z"/><path fill="#00f" d="M381 533h2v2h-2z"/><path fill="#ff0" d="M477 533h2v2h-2z"/><path fill="#000" d="M376 540h2v2h-2zM384 522h2v2h-2zM341 488h2v2h-2z"/><path fill="#ff0" d="M398 532h2v2h-2zM442 543h2v2h-2z"/><path fill="#00f" d="M465 539h2v2h-2z"/><path fill="#000" d="M438 534h2v2h-2z"/><path fill="#00f" d="M351 554h2v2h-2zM462 555h2v2h-2zM406 549h2v2h-2z"/><path fill="#f00" d="M405 549h2v2h-2z"/><path fill="#00f" d="M370 557h2v2h-2z"/><path fill="#f00" d="M369 559h2v2h-2z"/><path fill="#000" d="M336 526h2v2h-2z"/><path fill="#f00" d="M408 563h2v2h-2z"/><path fill="#00f" d="M480 539h2v2h-2z"/><path fill="#000" d="M404 522h2v2h-2zM431 535h2v2h-2z"/><path fill="#f00" d="M365 525h2v2h-2z"/><path fill="#ff0" d="M402 518h2v2h-2zM414 537h2v2h-2z"/><path fill="#f00" d="M369 563h2v2h-2z"/><path fill="#0f0" d="M390 550h2v2h-2z"/><path fill="#000" d="M293 544h2v2h-2z"/><path fill="#0f0" d="M458 558h2v2h-2z"/><path fill="#000" d="M357 521h2v2h-2z"/><path fill="#f00" d="M388 543h2v2h-2zM452 531h2v2h-2z"/><path fill="#000" d="M374 524h2v2h-2z"/><path fill="#ff0" d="M401 491h2v2h-2zM358 432h2v2h-2z"/><path fill="#00f" d="M465 551h2v2h-2z"/><path fill="#ff0" d="M463 496h2v2h-2z"/><path fill="#f00" d="M394 553h2v2h-2z"/><path fill="#ff0" d="M457 522h2v2h-2z"/><path fill="#000" d="M408 535h2v2h-2zM419 530h2v2h-2zM400 537h2v2h-2zM350 526h2v2h-2z"/><path fill="#00f" d="M469 527h2v2h-2z"/><path fill="#000" d="M413 515h2v2h-2z"/><path fill="#f00" d="M347 457h2v2h-2zM462 530h2v2h-2z"/><path fill="#00f" d="M473 540h2v2h-2zM438 563h2v2h-2z"/><path fill="#0f0" d="M459 513h2v2h-2z"/><path fill="#00f" d="M475 534h2v2h-2zM438 532h2v2h-2zM478 544h2v2h-2z"/><path fill="#f00" d="M417 538h2v2h-2z"/><path fill="#ff0" d="M423 503h2v2h-2zM400 549h2v2h-2zM461 543h2v2h-2z"/><path fill="#f00" d="M360 544h2v2h-2z"/><path fill="#00f" d="M469 537h2v2h-2z"/><path fill="#ff0" d="M404 515h2v2h-2z"/><path fill="#00f" d="M446 554h2v2h-2zM434 538h2v2h-2z"/><path fill="#f00" d="M455 532h2v2h-2z"/><path fill="#00f" d="M466 531h2v2h-2z"/><path fill="#000" d="M377 551h2v2h-2z"/><path fill="#00f" d="M451 540h2v2h-2z"/><path fill="#f00" d="M433 530h2v2h-2zM454 541h2v2h-2z"/><path fill="#00f" d="M474 534h2v2h-2zM415 540h2v2h-2z"/><path fill="#f00" d="M415 531h2v2h-2z"/><path fill="#00f" d="M440 533h2v2h-2z"/><path fill="#0f0" d="M463 564h2v2h-2z"/><path fill="#ff0" d="M450 536h2v2h-2z"/><path fill="#000" d="M380 533h2v2h-2z"/><path fill="#f00" d="M454 535h2v2h-2z"/><path fill="#000" d="M292 535h2v2h-2z"/><path fill="#f00" d="M335 534h2v2h-2z"/><path fill="#000" d="M328 551h2v2h-2zM308 542h2v2h-2z"/><path fill="#00f" d="M412 561h2v2h-2z"/><path fill="#f00" d="M448 525h2v2h-2zM389 535h2v2h-2z"/><path fill="#00f" d="M411 559h2v2h-2z"/><path fill="#ff0" d="M402 537h2v2h-2z"/><path fill="#0f0" d="M439 521h2v2h-2z"/><path fill="#f00" d="M311 542h2v2h-2z"/><path fill="#000" d="M211 562h2v2h-2z"/><path fill="#f00" d="M456 549h2v2h-2zM443 539h2v2h-2z"/><path fill="#ff0" d="M435 528h2v2h-2z"/><path fill="#f00" d="M406 535h2v2h-2z"/><path fill="#000" d="M364 532h2v2h-2z"/><path fill="#ff0" d="M483 540h2v2h-2z"/><path fill="#000" d="M318 546h2v2h-2z"/><path fill="#f00" d="M437 537h2v2h-2z"/><path fill="#000" d="M398 538h2v2h-2z"/><path fill="#00f" d="M411 550h2v2h-2z"/><path fill="#000" d="M347 542h2v2h-2z"/><path fill="#00f" d="M256 550h2v2h-2z"/><path fill="#000" d="M335 512h2v2h-2z"/><path fill="#00f" d="M308 524h2v2h-2z"/><path fill="#f00" d="M351 552h2v2h-2z"/><path fill="#000" d="M219 520h2v2h-2z"/><path fill="#ff0" d="M437 512h2v2h-2z"/><path fill="#000" d="M292 528h2v2h-2z"/><path fill="#f00" d="M436 523h2v2h-2z"/><path fill="#00f" d="M367 546h2v2h-2zM430 535h2v2h-2zM460 528h2v2h-2z"/><path fill="#000" d="M378 540h2v2h-2zM369 528h2v2h-2z"/><path fill="#00f" d="M382 558h2v2h-2z"/><path fill="#0f0" d="M346 530h2v2h-2z"/><path fill="#ff0" d="M444 535h2v2h-2zM458 521h2v2h-2zM399 519h2v2h-2z"/><path fill="#f00" d="M265 575h2v2h-2z"/><path fill="#000" d="M461 532h2v2h-2z"/><path fill="#f00" d="M379 521h2v2h-2z"/><path fill="#0f0" d="M353 560h2v2h-2z"/><path fill="#f00" d="M360 540h2v2h-2z"/><path fill="#000" d="M177 561h2v2h-2z"/><path fill="#ff0" d="M417 538h2v2h-2z"/><path fill="#000" d="M352 531h2v2h-2z"/><path fill="#0f0" d="M436 521h2v2h-2z"/><path fill="#000" d="M356 535h2v2h-2z"/><path fill="#f00" d="M433 524h2v2h-2z"/><path fill="#00f" d="M420 533h2v2h-2zM453 544h2v2h-2z"/><path fill="#ff0" d="M408 504h2v2h-2z"/><path fill="#f00" d="M418 530h2v2h-2z"/><path fill="#ff0" d="M399 532h2v2h-2zM400 412h2v2h-2z"/><path fill="#00f" d="M436 535h2v2h-2z"/><path fill="#000" d="M380 530h2v2h-2zM395 524h2v2h-2z"/><path fill="#ff0" d="M418 544h2v2h-2z"/><path fill="#000" d="M312 511h2v2h-2zM396 530h2v2h-2z"/><path fill="#00f" d="M476 522h2v2h-2z"/><path fill="#000" d="M431 543h2v2h-2z"/><path fill="#00f" d="M377 543h2v2h-2zM452 538h2v2h-2z"/><path fill="#ff0" d="M440 493h2v2h-2z"/><path fill="#00f" d="M385 528h2v2h-2z"/><path fill="#0f0" d="M433 522h2v2h-2z"/><path fill="#f00" d="M402 533h2v2h-2z"/><path fill="#00f" d="M461 522h2v2h-2z"/><path fill="#f00" d="M422 540h2v2h-2z"/><path fill="#ff0" d="M404 482h2v2h-2z"/><path fill="#00f" d="M435 513h2v2h-2z"/><path fill="#000" d="M441 547h2v2h-2z"/><path fill="#ff0" d="M401 521h2v2h-2zM508 534h2v2h-2zM440 506h2v2h-2zM456 537h2v2h-2z"/><path fill="#000" d="M332 542h2v2h-2zM124 518h2v2h-2zM463 535h2v2h-2z"/><path fill="#00f" d="M346 550h2v2h-2z"/><path fill="#000" d="M443 507h2v2h-2z"/><path fill="#00f" d="M392 527h2v2h-2z"/><path fill="#f00" d="M465 538h2v2h-2z"/><path fill="#00f" d="M374 540h2v2h-2z"/><path fill="#000" d="M326 537h2v2h-2zM461 558h2v2h-2z"/><path fill="#ff0" d="M400 525h2v2h-2z"/><path fill="#0f0" d="M340 568h2v2h-2z"/><path fill="#000" d="M361 532h2v2h-2z"/><path fill="#00f" d="M462 528h2v2h-2zM404 544h2v2h-2z"/><path fill="#000" d="M304 552h2v2h-2z"/><path fill="#ff0" d="M484 510h2v2h-2z"/><path fill="#00f" d="M461 543h2v2h-2z"/><path fill="#000" d="M365 530h2v2h-2z"/><path fill="#ff0" d="M464 548h2v2h-2zM402 520h2v2h-2z"/><path fill="#f00" d="M424 531h2v2h-2zM460 539h2v2h-2z"/><path fill="#00f" d="M257 552h2v2h-2z"/><path fill="#ff0" d="M333 420h2v2h-2z"/><path fill="#000" d="M396 528h2v2h-2z"/><path fill="#00f" d="M414 558h2v2h-2z"/><path fill="#000" d="M459 544h2v2h-2zM357 531h2v2h-2z"/><path fill="#00f" d="M467 548h2v2h-2z"/><path fill="#000" d="M362 550h2v2h-2z"/><path fill="#0f0" d="M425 518h2v2h-2z"/><path fill="#f00" d="M468 507h2v2h-2z"/><path fill="#00f" d="M378 559h2v2h-2z"/><path fill="#f00" d="M427 525h2v2h-2z"/><path fill="#00f" d="M437 550h2v2h-2zM343 547h2v2h-2z"/><path fill="#000" d="M348 537h2v2h-2z"/><path fill="#00f" d="M289 551h2v2h-2z"/><path fill="#f00" d="M392 536h2v2h-2z"/><path fill="#00f" d="M450 533h2v2h-2z"/><path fill="#000" d="M384 517h2v2h-2z"/><path fill="#0f0" d="M404 544h2v2h-2z"/><path fill="#000" d="M349 516h2v2h-2z"/><path fill="#f00" d="M394 569h2v2h-2z"/><path fill="#ff0" d="M452 529h2v2h-2z"/><path fill="#0f0" d="M455 549h2v2h-2z"/><path fill="#00f" d="M424 555h2v2h-2z"/><path fill="#000" d="M441 539h2v2h-2z"/><path fill="#00f" d="M431 536h2v2h-2z"/><path fill="#ff0" d="M480 514h2v2h-2z"/><path fill="#f00" d="M374 527h2v2h-2z"/><path fill="#ff0" d="M496 561h2v2h-2zM412 512h2v2h-2z"/><path fill="#0f0" d="M400 544h2v2h-2z"/><path fill="#ff0" d="M407 520h2v2h-2z"/><path fill="#f00" d="M467 499h2v2h-2z"/><path fill="#000" d="M356 516h2v2h-2z"/><path fill="#00f" d="M434 555h2v2h-2z"/><path fill="#f00" d="M426 540h2v2h-2zM368 553h2v2h-2z"/><path fill="#00f" d="M427 540h2v2h-2z"/><path fill="#ff0" d="M445 491h2v2h-2z"/><path fill="#000" d="M220 528h2v2h-2zM394 544h2v2h-2z"/><path fill="#00f" d="M405 549h2v2h-2z"/><path fill="#f00" d="M419 525h2v2h-2zM424 514h2v2h-2zM394 540h2v2h-2zM453 530h2v2h-2z"/><path fill="#000" d="M451 510h2v2h-2z"/><path fill="#f00" d="M444 516h2v2h-2z"/><path fill="#00f" d="M476 532h2v2h-2zM477 536h2v2h-2z"/><path fill="#000" d="M443 537h2v2h-2z"/><path fill="#ff0" d="M476 529h2v2h-2z"/><path fill="#00f" d="M478 533h2v2h-2z"/><path fill="#ff0" d="M370 438h2v2h-2zM431 514h2v2h-2z"/><path fill="#f00" d="M382 532h2v2h-2z"/><path fill="#0f0" d="M397 543h2v2h-2z"/><path fill="#ff0" d="M386 331h2v2h-2z"/><path fill="#f00" d="M430 532h2v2h-2zM452 546h2v2h-2zM415 532h2v2h-2z"/><path fill="#0f0" d="M411 529h2v2h-2z"/><path fill="#f00" d="M460 528h2v2h-2z"/><path fill="#000" d="M361 525h2v2h-2z"/><path fill="#ff0" d="M429 499h2v2h-2z"/><path fill="#000" d="M375 541h2v2h-2zM376 524h2v2h-2z"/><path fill="#ff0" d="M429 540h2v2h-2z"/><path fill="#00f" d="M463 531h2v2h-2z"/><path fill="#ff0" d="M445 523h2v2h-2z"/><path fill="#000" d="M424 519h2v2h-2z"/><path fill="#00f" d="M360 526h2v2h-2z"/><path fill="#ff0" d="M337 412h2v2h-2z"/><path fill="#000" d="M378 521h2v2h-2z"/><path fill="#f00" d="M391 517h2v2h-2zM420 524h2v2h-2z"/><path fill="#ff0" d="M355 255h2v2h-2z"/><path fill="#00f" d="M453 522h2v2h-2zM388 549h2v2h-2z"/><path fill="#ff0" d="M475 531h2v2h-2z"/><path fill="#f00" d="M435 521h2v2h-2z"/><path fill="#000" d="M318 535h2v2h-2z"/><path fill="#f00" d="M447 521h2v2h-2zM384 531h2v2h-2z"/><path fill="#00f" d="M337 555h2v2h-2z"/><path fill="#000" d="M344 529h2v2h-2z"/><path fill="#00f" d="M391 555h2v2h-2zM387 532h2v2h-2z"/><path fill="#ff0" d="M383 528h2v2h-2z"/><path fill="#000" d="M304 463h2v2h-2z"/><path fill="#00f" d="M397 541h2v2h-2zM403 541h2v2h-2z"/><path fill="#0f0" d="M454 543h2v2h-2z"/><path fill="#000" d="M356 526h2v2h-2z"/><path fill="#f00" d="M455 511h2v2h-2z"/><path fill="#00f" d="M457 522h2v2h-2z"/><path fill="#f00" d="M438 530h2v2h-2z"/><path fill="#00f" d="M433 552h2v2h-2zM475 532h2v2h-2z"/><path fill="#ff0" d="M468 538h2v2h-2z"/><path fill="#0f0" d="M435 530h2v2h-2z"/><path fill="#f00" d="M408 537h2v2h-2z"/><path fill="#ff0" d="M391 520h2v2h-2z"/><path fill="#000" d="M388 533h2v2h-2zM233 548h2v2h-2z"/><path fill="#f00" d="M429 516h2v2h-2z"/><path fill="#000" d="M462 547h2v2h-2z"/><path fill="#00f" d="M427 524h2v2h-2z"/><path fill="#ff0" d="M430 520h2v2h-2z"/><path fill="#f00" d="M392 545h2v2h-2z"/><path fill="#ff0" d="M449 516h2v2h-2z"/><path fill="#000" d="M374 542h2v2h-2zM440 525h2v2h-2z"/><path fill="#f00" d="M433 557h2v2h-2z"/><path fill="#ff0" d="M438 508h2v2h-2zM414 526h2v2h-2zM398 495h2v2h-2z"/><path fill="#00f" d="M316 550h2v2h-2z"/><path fill="#f00" d="M377 542h2v2h-2z"/><path fill="#ff0" d="M490 537h2v2h-2z"/><path fill="#00f" d="M372 567h2v2h-2z"/><path fill="#f00" d="M478 551h2v2h-2zM387 542h2v2h-2z"/><path fill="#00f" d="M443 523h2v2h-2z"/><path fill="#ff0" d="M376 349h2v2h-2z"/><path fill="#f00" d="M328 580h2v2h-2z"/><path fill="#000" d="M477 554h2v2h-2z"/><path fill="#00f" d="M473 532h2v2h-2z"/><path fill="#f00" d="M468 520h2v2h-2z"/><path fill="#000" d="M439 526h2v2h-2zM438 532h2v2h-2zM254 556h2v2h-2zM399 525h2v2h-2z"/><path fill="#ff0" d="M464 528h2v2h-2z"/><path fill="#00f" d="M461 541h2v2h-2z"/><path fill="#000" d="M351 548h2v2h-2z"/><path fill="#f00" d="M456 526h2v2h-2z"/><path fill="#000" d="M440 514h2v2h-2z"/><path fill="#00f" d="M459 546h2v2h-2z"/><path fill="#f00" d="M363 543h2v2h-2z"/><path fill="#0f0" d="M400 547h2v2h-2z"/><path fill="#f00" d="M478 543h2v2h-2z"/><path fill="#000" d="M388 527h2v2h-2zM356 522h2v2h-2zM389 524h2v2h-2z"/><path fill="#00f" d="M455 532h2v2h-2z"/><path fill="#f00" d="M475 543h2v2h-2z"/><path fill="#0f0" d="M461 519h2v2h-2z"/><path fill="#ff0" d="M478 543h2v2h-2z"/><path fill="#00f" d="M463 536h2v2h-2z"/><path fill="#0f0" d="M430 526h2v2h-2z"/><path fill="#ff0" d="M371 463h2v2h-2z"/><path fill="#f00" d="M428 538h2v2h-2z"/><path fill="#00f" d="M431 543h2v2h-2z"/><path fill="#ff0" d="M446 527h2v2h-2z"/><path fill="#000" d="M370 545h2v2h-2z"/><path fill="#f00" d="M451 543h2v2h-2z"/><path fill="#000" d="M358 543h2v2h-2z"/><path fill="#00f" d="M332 583h2v2h-2zM446 537h2v2h-2z"/><path fill="#ff0" d="M387 492h2v2h-2z"/><path fill="#000" d="M446 536h2v2h-2z"/><path fill="#ff0" d="M425 541h2v2h-2z"/><path fill="#0f0" d="M400 523h2v2h-2z"/><path fill="#000" d="M418 543h2v2h-2z"/><path fill="#f00" d="M409 523h2v2h-2z"/><path fill="#00f" d="M450 535h2v2h-2zM187 545h2v2h-2zM468 549h2v2h-2z"/><path fill="#ff0" d="M440 510h2v2h-2z"/><path fill="#00f" d="M462 537h2v2h-2z"/><path fill="#000" d="M412 516h2v2h-2z"/><path fill="#ff0" d="M402 488h2v2h-2z"/><path fill="#00f" d="M358 536h2v2h-2z"/><path fill="#000" d="M448 527h2v2h-2z"/><path fill="#00f" d="M469 554h2v2h-2z"/><path fill="#ff0" d="M423 521h2v2h-2z"/><path fill="#000" d="M348 529h2v2h-2zM354 531h2v2h-2z"/><path fill="#00f" d="M428 531h2v2h-2z"/><path fill="#ff0" d="M432 521h2v2h-2zM433 532h2v2h-2z"/><path fill="#000" d="M357 529h2v2h-2z"/><path fill="#ff0" d="M443 539h2v2h-2z"/><path fill="#00f" d="M433 536h2v2h-2z"/><path fill="#000" d="M346 528h2v2h-2z"/><path fill="#ff0" d="M406 490h2v2h-2z"/><path fill="#00f" d="M443 549h2v2h-2z"/><path fill="#000" d="M444 510h2v2h-2zM365 522h2v2h-2zM444 539h2v2h-2z"/><path fill="#00f" d="M464 541h2v2h-2zM439 551h2v2h-2z"/><path fill="#f00" d="M451 537h2v2h-2z"/><path fill="#000" d="M446 535h2v2h-2z"/><path fill="#f00" d="M446 507h2v2h-2z"/><path fill="#00f" d="M471 537h2v2h-2z"/><path fill="#000" d="M385 527h2v2h-2z"/><path fill="#00f" d="M446 553h2v2h-2z"/><path fill="#ff0" d="M452 477h2v2h-2z"/><path fill="#000" d="M438 526h2v2h-2z"/><path fill="#f00" d="M475 532h2v2h-2z"/><path fill="#00f" d="M433 552h2v2h-2z"/><path fill="#000" d="M326 519h2v2h-2z"/><path fill="#f00" d="M419 531h2v2h-2z"/><path fill="#ff0" d="M424 507h2v2h-2zM465 527h2v2h-2z"/><path fill="#000" d="M448 533h2v2h-2z"/><path fill="#f00" d="M402 547h2v2h-2z"/><path fill="#00f" d="M462 536h2v2h-2z"/><path fill="#f00" d="M321 554h2v2h-2zM432 533h2v2h-2z"/><path fill="#ff0" d="M446 509h2v2h-2zM356 443h2v2h-2z"/><path fill="#000" d="M392 534h2v2h-2z"/><path fill="#f00" d="M433 534h2v2h-2z"/><path fill="#ff0" d="M454 514h2v2h-2z"/><path fill="#00f" d="M472 528h2v2h-2zM380 554h2v2h-2z"/><path fill="#f00" d="M191 595h2v2h-2z"/><path fill="#ff0" d="M330 373h2v2h-2zM472 543h2v2h-2zM395 527h2v2h-2zM396 513h2v2h-2z"/><path fill="#000" d="M437 521h2v2h-2z"/><path fill="#ff0" d="M389 491h2v2h-2z"/><path fill="#000" d="M371 497h2v2h-2zM447 522h2v2h-2zM338 477h2v2h-2z"/><path fill="#f00" d="M440 530h2v2h-2z"/><path fill="#00f" d="M443 535h2v2h-2z"/><path fill="#000" d="M383 548h2v2h-2z"/><path fill="#f00" d="M416 551h2v2h-2zM440 531h2v2h-2zM357 555h2v2h-2zM431 503h2v2h-2z"/><path fill="#000" d="M368 541h2v2h-2zM407 514h2v2h-2z"/><path fill="#ff0" d="M445 544h2v2h-2zM440 489h2v2h-2z"/><path fill="#00f" d="M194 495h2v2h-2z"/><path fill="#000" d="M338 524h2v2h-2zM351 537h2v2h-2zM188 537h2v2h-2z"/><path fill="#ff0" d="M534 525h2v2h-2z"/><path fill="#00f" d="M473 550h2v2h-2zM393 528h2v2h-2z"/><path fill="#f00" d="M390 543h2v2h-2z"/><path fill="#00f" d="M421 542h2v2h-2zM442 526h2v2h-2z"/><path fill="#f00" d="M420 526h2v2h-2z"/><path fill="#ff0" d="M457 540h2v2h-2z"/><path fill="#f00" d="M473 515h2v2h-2z"/><path fill="#000" d="M468 547h2v2h-2z"/><path fill="#00f" d="M361 543h2v2h-2zM406 562h2v2h-2zM419 568h2v2h-2z"/><path fill="#000" d="M344 525h2v2h-2z"/><path fill="#f00" d="M361 554h2v2h-2zM476 549h2v2h-2z"/><path fill="#000" d="M350 524h2v2h-2z"/><path fill="#00f" d="M132 556h2v2h-2zM407 534h2v2h-2zM364 516h2v2h-2z"/><path fill="#000" d="M242 539h2v2h-2zM391 522h2v2h-2z"/><path fill="#00f" d="M457 541h2v2h-2z"/><path fill="#f00" d="M292 567h2v2h-2zM406 529h2v2h-2zM429 531h2v2h-2z"/><path fill="#000" d="M320 495h2v2h-2z"/><path fill="#00f" d="M472 553h2v2h-2z"/><path fill="#000" d="M282 558h2v2h-2z"/><path fill="#f00" d="M373 524h2v2h-2zM411 516h2v2h-2zM387 551h2v2h-2z"/><path fill="#ff0" d="M450 538h2v2h-2z"/><path fill="#00f" d="M400 562h2v2h-2z"/><path fill="#f00" d="M386 543h2v2h-2z"/><path fill="#0f0" d="M346 559h2v2h-2z"/><path fill="#000" d="M390 528h2v2h-2z"/><path fill="#00f" d="M458 544h2v2h-2z"/><path fill="#0f0" d="M366 547h2v2h-2z"/><path fill="#00f" d="M472 531h2v2h-2z"/><path fill="#000" d="M411 545h2v2h-2z"/><path fill="#00f" d="M422 528h2v2h-2z"/><path fill="#000" d="M388 528h2v2h-2z"/><path fill="#ff0" d="M474 540h2v2h-2z"/><path fill="#f00" d="M357 555h2v2h-2z"/><path fill="#ff0" d="M456 550h2v2h-2z"/><path fill="#00f" d="M456 541h2v2h-2z"/><path fill="#f00" d="M271 537h2v2h-2z"/><path fill="#000" d="M194 571h2v2h-2z"/><path fill="#ff0" d="M522 507h2v2h-2z"/><path fill="#f00" d="M410 539h2v2h-2z"/><path fill="#ff0" d="M407 543h2v2h-2z"/><path fill="#000" d="M342 535h2v2h-2zM410 540h2v2h-2zM344 537h2v2h-2z"/><path fill="#f00" d="M459 536h2v2h-2z"/><path fill="#00f" d="M188 593h2v2h-2z"/><path fill="#ff0" d="M390 519h2v2h-2zM444 513h2v2h-2z"/><path fill="#f00" d="M426 528h2v2h-2z"/><path fill="#00f" d="M419 548h2v2h-2zM429 535h2v2h-2z"/><path fill="#000" d="M84 535h2v2h-2z"/><path fill="#f00" d="M469 529h2v2h-2z"/><path fill="#000" d="M403 541h2v2h-2z"/><path fill="#ff0" d="M362 462h2v2h-2z"/><path fill="#000" d="M255 535h2v2h-2z"/><path fill="#f00" d="M475 541h2v2h-2z"/><path fill="#00f" d="M459 545h2v2h-2z"/><path fill="#f00" d="M379 528h2v2h-2z"/><path fill="#00f" d="M413 555h2v2h-2z"/><path fill="#ff0" d="M350 534h2v2h-2zM404 509h2v2h-2zM401 539h2v2h-2z"/><path fill="#f00" d="M423 527h2v2h-2z"/><path fill="#000" d="M358 542h2v2h-2z"/><path fill="#0f0" d="M450 527h2v2h-2z"/><path fill="#ff0" d="M432 541h2v2h-2z"/><path fill="#f00" d="M476 549h2v2h-2z"/><path fill="#ff0" d="M451 498h2v2h-2zM397 545h2v2h-2z"/><path fill="#000" d="M334 524h2v2h-2z"/><path fill="#00f" d="M418 525h2v2h-2z"/><path fill="#f00" d="M443 542h2v2h-2z"/><path fill="#000" d="M445 526h2v2h-2z"/><path fill="#f00" d="M431 515h2v2h-2z"/><path fill="#ff0" d="M459 545h2v2h-2z"/><path fill="#000" d="M269 508h2v2h-2zM375 539h2v2h-2z"/><path fill="#00f" d="M478 527h2v2h-2z"/><path fill="#000" d="M390 553h2v2h-2z"/><path fill="#00f" d="M370 520h2v2h-2z"/><path fill="#f00" d="M437 537h2v2h-2z"/><path fill="#000" d="M360 529h2v2h-2z"/><path fill="#00f" d="M462 538h2v2h-2z"/><path fill="#f00" d="M443 533h2v2h-2z"/><path fill="#000" d="M409 510h2v2h-2z"/><path fill="#ff0" d="M459 531h2v2h-2z"/><path fill="#000" d="M463 545h2v2h-2z"/><path fill="#ff0" d="M431 552h2v2h-2z"/><path fill="#000" d="M425 530h2v2h-2z"/><path fill="#f00" d="M421 524h2v2h-2zM318 560h2v2h-2zM390 538h2v2h-2z"/><path fill="#000" d="M465 529h2v2h-2z"/><path fill="#00f" d="M444 549h2v2h-2z"/><path fill="#0f0" d="M380 542h2v2h-2zM417 532h2v2h-2z"/><path fill="#000" d="M381 536h2v2h-2z"/><path fill="#00f" d="M390 540h2v2h-2zM410 555h2v2h-2z"/><path fill="#000" d="M404 535h2v2h-2zM184 559h2v2h-2z"/><path fill="#ff0" d="M464 524h2v2h-2z"/><path fill="#0f0" d="M477 524h2v2h-2z"/><path fill="#f00" d="M426 512h2v2h-2z"/><path fill="#000" d="M363 544h2v2h-2zM305 448h2v2h-2z"/><path fill="#ff0" d="M465 539h2v2h-2z"/><path fill="#00f" d="M462 553h2v2h-2z"/><path fill="#000" d="M377 551h2v2h-2zM349 508h2v2h-2z"/><path fill="#00f" d="M438 538h2v2h-2z"/><path fill="#ff0" d="M440 518h2v2h-2z"/><path fill="#f00" d="M480 525h2v2h-2z"/><path fill="#000" d="M400 526h2v2h-2z"/><path fill="#00f" d="M405 552h2v2h-2z"/><path fill="#000" d="M452 541h2v2h-2z"/><path fill="#f00" d="M435 533h2v2h-2z"/><path fill="#000" d="M407 541h2v2h-2z"/><path fill="#00f" d="M371 515h2v2h-2z"/><path fill="#f00" d="M401 527h2v2h-2zM377 524h2v2h-2zM474 545h2v2h-2zM462 553h2v2h-2z"/><path fill="#000" d="M466 539h2v2h-2z"/><path fill="#f00" d="M379 550h2v2h-2z"/><path fill="#000" d="M312 517h2v2h-2zM354 529h2v2h-2z"/><path fill="#ff0" d="M307 382h2v2h-2z"/><path fill="#00f" d="M323 552h2v2h-2z"/><path fill="#000" d="M411 537h2v2h-2z"/><path fill="#0f0" d="M349 540h2v2h-2z"/><path fill="#00f" d="M378 560h2v2h-2zM456 525h2v2h-2z"/><path fill="#000" d="M410 539h2v2h-2zM427 537h2v2h-2z"/><path fill="#f00" d="M407 560h2v2h-2z"/><path fill="#000" d="M435 534h2v2h-2z"/><path fill="#00f" d="M372 539h2v2h-2z"/><path fill="#000" d="M412 521h2v2h-2zM446 528h2v2h-2z"/><path fill="#f00" d="M410 519h2v2h-2z"/><path fill="#00f" d="M419 525h2v2h-2z"/><path fill="#f00" d="M348 549h2v2h-2zM429 533h2v2h-2zM455 546h2v2h-2z"/><path fill="#000" d="M433 507h2v2h-2zM384 515h2v2h-2z"/><path fill="#00f" d="M462 512h2v2h-2z"/><path fill="#ff0" d="M446 482h2v2h-2z"/><path fill="#000" d="M360 530h2v2h-2z"/><path fill="#ff0" d="M407 513h2v2h-2z"/><path fill="#000" d="M353 525h2v2h-2z"/><path fill="#00f" d="M436 560h2v2h-2zM480 537h2v2h-2z"/><path fill="#000" d="M367 531h2v2h-2z"/><path fill="#00f" d="M399 524h2v2h-2z"/><path fill="#f00" d="M383 547h2v2h-2z"/><path fill="#ff0" d="M418 532h2v2h-2z"/><path fill="#00f" d="M474 523h2v2h-2z"/><path fill="#000" d="M345 553h2v2h-2z"/><path fill="#00f" d="M405 549h2v2h-2zM396 541h2v2h-2z"/><path fill="#ff0" d="M475 538h2v2h-2z"/><path fill="#f00" d="M384 534h2v2h-2z"/><path fill="#000" d="M417 506h2v2h-2z"/><path fill="#00f" d="M372 538h2v2h-2z"/><path fill="#ff0" d="M425 542h2v2h-2z"/><path fill="#00f" d="M340 540h2v2h-2z"/><path fill="#f00" d="M332 562h2v2h-2z"/><path fill="#000" d="M353 531h2v2h-2zM449 537h2v2h-2z"/><path fill="#00f" d="M434 540h2v2h-2z"/><path fill="#000" d="M365 548h2v2h-2zM384 541h2v2h-2z"/><path fill="#00f" d="M412 502h2v2h-2z"/><path fill="#0f0" d="M411 536h2v2h-2z"/><path fill="#f00" d="M438 524h2v2h-2z"/><path fill="#000" d="M381 525h2v2h-2z"/><path fill="#f00" d="M349 555h2v2h-2z"/><path fill="#00f" d="M387 519h2v2h-2z"/><path fill="#f00" d="M311 571h2v2h-2zM432 521h2v2h-2zM420 523h2v2h-2z"/><path fill="#ff0" d="M435 521h2v2h-2z"/><path fill="#000" d="M383 520h2v2h-2zM472 538h2v2h-2zM402 537h2v2h-2z"/><path fill="#ff0" d="M436 501h2v2h-2z"/><path fill="#000" d="M410 517h2v2h-2zM425 538h2v2h-2z"/><path fill="#ff0" d="M407 507h2v2h-2z"/><path fill="#00f" d="M470 527h2v2h-2zM475 537h2v2h-2z"/><path fill="#000" d="M363 526h2v2h-2z"/><path fill="#0f0" d="M376 536h2v2h-2zM415 560h2v2h-2z"/><path fill="#ff0" d="M474 527h2v2h-2z"/><path fill="#00f" d="M473 551h2v2h-2zM452 536h2v2h-2z"/><path fill="#000" d="M404 542h2v2h-2zM181 543h2v2h-2z"/><path fill="#00f" d="M408 524h2v2h-2z"/><path fill="#ff0" d="M438 540h2v2h-2z"/><path fill="#000" d="M353 522h2v2h-2z"/><path fill="#f00" d="M339 551h2v2h-2zM434 542h2v2h-2z"/><path fill="#00f" d="M403 525h2v2h-2z"/><path fill="#f00" d="M329 554h2v2h-2z"/><path fill="#ff0" d="M404 419h2v2h-2z"/><path fill="#f00" d="M455 534h2v2h-2z"/><path fill="#ff0" d="M390 417h2v2h-2z"/><path fill="#f00" d="M445 538h2v2h-2z"/><path fill="#00f" d="M391 547h2v2h-2z"/><path fill="#ff0" d="M479 552h2v2h-2z"/><path fill="#000" d="M177 561h2v2h-2z"/><path fill="#f00" d="M341 564h2v2h-2z"/><path fill="#00f" d="M455 539h2v2h-2z"/><path fill="#000" d="M384 523h2v2h-2z"/><path fill="#f00" d="M368 571h2v2h-2z"/><path fill="#ff0" d="M429 519h2v2h-2zM476 525h2v2h-2z"/><path fill="#0f0" d="M437 532h2v2h-2z"/><path fill="#f00" d="M444 533h2v2h-2z"/><path fill="#ff0" d="M476 527h2v2h-2zM452 525h2v2h-2z"/><path fill="#f00" d="M473 507h2v2h-2z"/><path fill="#ff0" d="M476 533h2v2h-2zM423 508h2v2h-2zM419 529h2v2h-2z"/><path fill="#0f0" d="M439 516h2v2h-2z"/><path fill="#000" d="M406 533h2v2h-2z"/><path fill="#f00" d="M431 537h2v2h-2zM476 535h2v2h-2z"/><path fill="#ff0" d="M415 494h2v2h-2zM386 361h2v2h-2z"/><path fill="#f00" d="M464 552h2v2h-2z"/><path fill="#00f" d="M414 549h2v2h-2z"/><path fill="#000" d="M371 535h2v2h-2z"/><path fill="#f00" d="M474 533h2v2h-2z"/><path fill="#0f0" d="M455 535h2v2h-2z"/><path fill="#00f" d="M441 527h2v2h-2z"/><path fill="#f00" d="M462 533h2v2h-2z"/><path fill="#00f" d="M415 549h2v2h-2zM291 571h2v2h-2zM178 553h2v2h-2z"/><path fill="#f00" d="M383 523h2v2h-2z"/><path fill="#000" d="M418 527h2v2h-2z"/><path fill="#00f" d="M470 541h2v2h-2z"/><path fill="#ff0" d="M519 513h2v2h-2z"/><path fill="#00f" d="M480 538h2v2h-2zM346 540h2v2h-2z"/><path fill="#000" d="M424 507h2v2h-2z"/><path fill="#ff0" d="M457 514h2v2h-2zM422 552h2v2h-2z"/><path fill="#f00" d="M419 525h2v2h-2z"/><path fill="#000" d="M410 515h2v2h-2z"/><path fill="#ff0" d="M446 527h2v2h-2z"/><path fill="#000" d="M352 534h2v2h-2z"/><path fill="#00f" d="M215 563h2v2h-2z"/><path fill="#ff0" d="M406 442h2v2h-2z"/><path fill="#000" d="M451 546h2v2h-2zM382 520h2v2h-2z"/><path fill="#ff0" d="M442 512h2v2h-2z"/><path fill="#f00" d="M411 541h2v2h-2z"/><path fill="#00f" d="M465 537h2v2h-2z"/><path fill="#ff0" d="M463 527h2v2h-2z"/><path fill="#000" d="M138 561h2v2h-2z"/><path fill="#00f" d="M426 541h2v2h-2z"/><path fill="#000" d="M359 537h2v2h-2zM360 529h2v2h-2z"/><path fill="#f00" d="M439 543h2v2h-2z"/><path fill="#000" d="M342 522h2v2h-2z"/><path fill="#f00" d="M463 539h2v2h-2z"/><path fill="#000" d="M391 518h2v2h-2zM369 491h2v2h-2z"/><path fill="#00f" d="M331 545h2v2h-2zM341 523h2v2h-2z"/><path fill="#f00" d="M357 542h2v2h-2z"/><path fill="#ff0" d="M451 504h2v2h-2z"/><path fill="#000" d="M343 539h2v2h-2z"/><path fill="#00f" d="M414 540h2v2h-2z"/><path fill="#000" d="M320 534h2v2h-2zM359 537h2v2h-2z"/><path fill="#00f" d="M473 540h2v2h-2z"/><path fill="#000" d="M367 524h2v2h-2z"/><path fill="#00f" d="M474 529h2v2h-2z"/><path fill="#000" d="M418 520h2v2h-2zM301 544h2v2h-2zM372 524h2v2h-2z"/><path fill="#f00" d="M449 558h2v2h-2z"/><path fill="#000" d="M319 529h2v2h-2z"/><path fill="#00f" d="M460 543h2v2h-2z"/><path fill="#000" d="M366 533h2v2h-2z"/><path fill="#00f" d="M409 532h2v2h-2z"/><path fill="#ff0" d="M428 526h2v2h-2zM447 530h2v2h-2zM372 527h2v2h-2z"/><path fill="#00f" d="M378 568h2v2h-2z"/><path fill="#f00" d="M397 537h2v2h-2z"/><path fill="#00f" d="M422 543h2v2h-2z"/><path fill="#ff0" d="M447 528h2v2h-2z"/><path fill="#00f" d="M442 548h2v2h-2z"/><path fill="#0f0" d="M458 538h2v2h-2z"/><path fill="#00f" d="M406 534h2v2h-2z"/><path fill="#000" d="M385 522h2v2h-2z"/><path fill="#00f" d="M415 531h2v2h-2z"/><path fill="#000" d="M389 553h2v2h-2z"/><path fill="#f00" d="M463 529h2v2h-2z"/><path fill="#ff0" d="M400 460h2v2h-2z"/><path fill="#000" d="M406 531h2v2h-2z"/><path fill="#0f0" d="M196 587h2v2h-2z"/><path fill="#000" d="M419 553h2v2h-2zM417 522h2v2h-2z"/><path fill="#f00" d="M440 518h2v2h-2z"/><path fill="#00f" d="M463 533h2v2h-2z"/><path fill="#f00" d="M388 535h2v2h-2z"/><path fill="#00f" d="M389 553h2v2h-2z"/><path fill="#000" d="M395 516h2v2h-2zM434 530h2v2h-2zM398 532h2v2h-2zM371 538h2v2h-2z"/><path fill="#00f" d="M466 530h2v2h-2z"/><path fill="#000" d="M353 534h2v2h-2z"/><path fill="#f00" d="M229 555h2v2h-2z"/><path fill="#00f" d="M398 550h2v2h-2z"/><path fill="#f00" d="M432 537h2v2h-2zM466 511h2v2h-2z"/><path fill="#00f" d="M400 570h2v2h-2zM466 560h2v2h-2z"/><path fill="#ff0" d="M406 393h2v2h-2z"/><path fill="#00f" d="M463 522h2v2h-2z"/><path fill="#f00" d="M429 523h2v2h-2z"/><path fill="#000" d="M370 523h2v2h-2z"/><path fill="#0f0" d="M429 561h2v2h-2z"/><path fill="#f00" d="M428 523h2v2h-2z"/><path fill="#0f0" d="M427 553h2v2h-2z"/><path fill="#00f" d="M383 546h2v2h-2z"/><path fill="#000" d="M339 519h2v2h-2z"/><path fill="#ff0" d="M399 519h2v2h-2z"/><path fill="#f00" d="M376 570h2v2h-2z"/><path fill="#00f" d="M441 531h2v2h-2zM427 525h2v2h-2zM392 537h2v2h-2z"/><path fill="#ff0" d="M463 538h2v2h-2z"/><path fill="#000" d="M449 530h2v2h-2zM253 543h2v2h-2z"/><path fill="#ff0" d="M445 513h2v2h-2zM471 522h2v2h-2z"/><path fill="#00f" d="M426 526h2v2h-2z"/><path fill="#f00" d="M437 542h2v2h-2z"/><path fill="#0f0" d="M440 540h2v2h-2z"/><path fill="#f00" d="M364 559h2v2h-2z"/><path fill="#000" d="M391 538h2v2h-2z"/><path fill="#f00" d="M402 534h2v2h-2zM430 551h2v2h-2zM441 551h2v2h-2z"/><path fill="#00f" d="M429 544h2v2h-2z"/><path fill="#000" d="M418 541h2v2h-2z"/><path fill="#ff0" d="M518 539h2v2h-2z"/><path fill="#00f" d="M433 552h2v2h-2z"/><path fill="#000" d="M382 532h2v2h-2z"/><path fill="#00f" d="M358 563h2v2h-2z"/><path fill="#ff0" d="M422 523h2v2h-2z"/><path fill="#f00" d="M429 527h2v2h-2z"/><path fill="#0f0" d="M404 525h2v2h-2z"/><path fill="#000" d="M478 526h2v2h-2z"/><path fill="#ff0" d="M462 536h2v2h-2z"/><path fill="#f00" d="M399 538h2v2h-2z"/><path fill="#0f0" d="M372 561h2v2h-2z"/><path fill="#000" d="M362 555h2v2h-2z"/><path fill="#f00" d="M447 535h2v2h-2z"/><path fill="#000" d="M473 548h2v2h-2z"/><path fill="#f00" d="M377 521h2v2h-2z"/><path fill="#000" d="M388 541h2v2h-2zM460 529h2v2h-2z"/><path fill="#f00" d="M306 561h2v2h-2z"/><path fill="#ff0" d="M414 359h2v2h-2z"/><path fill="#000" d="M329 532h2v2h-2z"/><path fill="#ff0" d="M391 467h2v2h-2zM496 516h2v2h-2z"/><path fill="#f00" d="M390 531h2v2h-2z"/><path fill="#000" d="M436 494h2v2h-2z"/><path fill="#f00" d="M396 507h2v2h-2z"/><path fill="#0f0" d="M436 543h2v2h-2z"/><path fill="#00f" d="M461 554h2v2h-2z"/><path fill="#000" d="M350 526h2v2h-2z"/><path fill="#00f" d="M476 529h2v2h-2z"/><path fill="#ff0" d="M453 513h2v2h-2z"/><path fill="#00f" d="M392 551h2v2h-2z"/><path fill="#f00" d="M415 521h2v2h-2z"/><path fill="#000" d="M270 520h2v2h-2z"/><path fill="#ff0" d="M428 511h2v2h-2z"/><path fill="#f00" d="M421 549h2v2h-2z"/><path fill="#000" d="M386 540h2v2h-2z"/><path fill="#f00" d="M389 571h2v2h-2z"/><path fill="#ff0" d="M419 536h2v2h-2z"/><path fill="#00f" d="M462 520h2v2h-2z"/><path fill="#000" d="M410 530h2v2h-2z"/><path fill="#00f" d="M423 524h2v2h-2z"/><path fill="#ff0" d="M339 507h2v2h-2zM418 481h2v2h-2z"/><path fill="#00f" d="M465 522h2v2h-2z"/><path fill="#f00" d="M435 536h2v2h-2zM468 535h2v2h-2z"/><path fill="#000" d="M401 529h2v2h-2z"/><path fill="#f00" d="M300 537h2v2h-2zM191 570h2v2h-2z"/><path fill="#000" d="M368 529h2v2h-2z"/><path fill="#ff0" d="M434 491h2v2h-2zM380 80h2v2h-2z"/><path fill="#0f0" d="M465 544h2v2h-2z"/><path fill="#ff0" d="M477 555h2v2h-2zM447 531h2v2h-2z"/><path fill="#f00" d="M411 554h2v2h-2z"/><path fill="#000" d="M400 542h2v2h-2z"/><path fill="#f00" d="M178 584h2v2h-2zM307 548h2v2h-2z"/><path fill="#0f0" d="M444 526h2v2h-2z"/><path fill="#f00" d="M468 545h2v2h-2z"/><path fill="#00f" d="M464 535h2v2h-2z"/><path fill="#000" d="M404 538h2v2h-2zM360 558h2v2h-2zM440 530h2v2h-2z"/><path fill="#f00" d="M351 551h2v2h-2z"/><path fill="#00f" d="M359 537h2v2h-2z"/><path fill="#f00" d="M418 508h2v2h-2z"/><path fill="#ff0" d="M401 514h2v2h-2zM366 489h2v2h-2z"/><path fill="#f00" d="M405 522h2v2h-2zM404 532h2v2h-2zM440 532h2v2h-2zM423 521h2v2h-2zM479 529h2v2h-2z"/><path fill="#000" d="M269 552h2v2h-2zM308 528h2v2h-2zM444 526h2v2h-2zM362 472h2v2h-2zM389 524h2v2h-2z"/><path fill="#00f" d="M424 544h2v2h-2z"/><path fill="#f00" d="M448 550h2v2h-2z"/><path fill="#00f" d="M427 555h2v2h-2z"/><path fill="#f00" d="M454 547h2v2h-2z"/><path fill="#ff0" d="M475 535h2v2h-2z"/><path fill="#00f" d="M470 566h2v2h-2z"/><path fill="#ff0" d="M415 522h2v2h-2z"/><path fill="#00f" d="M326 535h2v2h-2z"/><path fill="#f00" d="M456 509h2v2h-2z"/><path fill="#000" d="M425 531h2v2h-2zM428 528h2v2h-2z"/><path fill="#f00" d="M465 514h2v2h-2z"/><path fill="#00f" d="M380 536h2v2h-2z"/><path fill="#f00" d="M412 524h2v2h-2z"/><path fill="#ff0" d="M401 472h2v2h-2z"/><path fill="#00f" d="M391 538h2v2h-2zM382 502h2v2h-2z"/><path fill="#f00" d="M427 552h2v2h-2z"/><path fill="#00f" d="M432 551h2v2h-2z"/><path fill="#000" d="M369 528h2v2h-2zM441 527h2v2h-2zM428 539h2v2h-2zM369 506h2v2h-2z"/><path fill="#00f" d="M389 551h2v2h-2zM438 532h2v2h-2z"/><path fill="#ff0" d="M370 320h2v2h-2z"/><path fill="#000" d="M363 522h2v2h-2z"/><path fill="#ff0" d="M412 485h2v2h-2z"/><path fill="#f00" d="M387 541h2v2h-2z"/><path fill="#000" d="M181 524h2v2h-2zM421 544h2v2h-2z"/><path fill="#f00" d="M453 530h2v2h-2zM431 537h2v2h-2z"/><path fill="#0f0" d="M469 521h2v2h-2z"/><path fill="#00f" d="M261 533h2v2h-2zM365 529h2v2h-2zM431 546h2v2h-2zM178 553h2v2h-2zM412 567h2v2h-2zM474 528h2v2h-2z"/><path fill="#f00" d="M368 544h2v2h-2z"/><path fill="#000" d="M439 530h2v2h-2zM365 527h2v2h-2z"/><path fill="#f00" d="M460 527h2v2h-2zM448 534h2v2h-2z"/><path fill="#000" d="M411 529h2v2h-2z"/><path fill="#ff0" d="M416 489h2v2h-2z"/><path fill="#f00" d="M426 534h2v2h-2zM345 536h2v2h-2z"/><path fill="#00f" d="M447 539h2v2h-2z"/><path fill="#f00" d="M382 537h2v2h-2z"/><path fill="#000" d="M446 536h2v2h-2zM400 530h2v2h-2z"/><path fill="#00f" d="M452 524h2v2h-2z"/><path fill="#000" d="M341 503h2v2h-2z"/><path fill="#ff0" d="M427 514h2v2h-2zM445 536h2v2h-2zM467 530h2v2h-2z"/><path fill="#f00" d="M417 510h2v2h-2z"/><path fill="#ff0" d="M413 509h2v2h-2z"/><path fill="#f00" d="M435 538h2v2h-2zM455 555h2v2h-2z"/><path fill="#000" d="M386 528h2v2h-2z"/><path fill="#0f0" d="M377 534h2v2h-2z"/><path fill="#f00" d="M350 544h2v2h-2zM371 551h2v2h-2z"/><path fill="#00f" d="M400 527h2v2h-2z"/><path fill="#000" d="M267 504h2v2h-2z"/><path fill="#f00" d="M456 529h2v2h-2z"/><path fill="#0f0" d="M384 549h2v2h-2zM351 558h2v2h-2zM417 548h2v2h-2z"/><path fill="#ff0" d="M440 558h2v2h-2z"/><path fill="#00f" d="M470 536h2v2h-2z"/><path fill="#ff0" d="M297 214h2v2h-2z"/><path fill="#000" d="M345 525h2v2h-2zM393 533h2v2h-2z"/><path fill="#f00" d="M477 537h2v2h-2z"/><path fill="#0f0" d="M386 521h2v2h-2z"/><path fill="#000" d="M476 527h2v2h-2z"/><path fill="#f00" d="M438 532h2v2h-2z"/><path fill="#000" d="M183 570h2v2h-2z"/><path fill="#00f" d="M424 541h2v2h-2z"/><path fill="#f00" d="M407 535h2v2h-2z"/><path fill="#000" d="M399 518h2v2h-2z"/><path fill="#0f0" d="M431 526h2v2h-2z"/><path fill="#00f" d="M349 554h2v2h-2z"/><path fill="#f00" d="M349 544h2v2h-2z"/><path fill="#000" d="M267 538h2v2h-2z"/><path fill="#f00" d="M474 551h2v2h-2z"/><path fill="#ff0" d="M404 511h2v2h-2z"/><path fill="#000" d="M455 532h2v2h-2z"/><path fill="#ff0" d="M476 522h2v2h-2z"/><path fill="#00f" d="M458 550h2v2h-2z"/><path fill="#000" d="M436 537h2v2h-2z"/><path fill="#f00" d="M413 503h2v2h-2z"/><path fill="#000" d="M351 530h2v2h-2zM369 543h2v2h-2zM453 528h2v2h-2z"/><path fill="#ff0" d="M477 525h2v2h-2z"/><path fill="#00f" d="M440 554h2v2h-2z"/><path fill="#ff0" d="M412 509h2v2h-2z"/><path fill="#0f0" d="M413 536h2v2h-2z"/><path fill="#000" d="M290 509h2v2h-2zM383 537h2v2h-2zM422 526h2v2h-2z"/><path fill="#f00" d="M365 545h2v2h-2z"/><path fill="#ff0" d="M454 525h2v2h-2zM451 516h2v2h-2z"/><path fill="#f00" d="M399 508h2v2h-2z"/><path fill="#00f" d="M394 533h2v2h-2zM427 551h2v2h-2zM396 551h2v2h-2z"/><path fill="#ff0" d="M434 526h2v2h-2z"/><path fill="#00f" d="M440 527h2v2h-2zM254 564h2v2h-2z"/><path fill="#f00" d="M360 572h2v2h-2zM427 533h2v2h-2z"/><path fill="#000" d="M412 540h2v2h-2z"/><path fill="#0f0" d="M387 504h2v2h-2z"/><path fill="#f00" d="M178 584h2v2h-2z"/><path fill="#000" d="M374 543h2v2h-2zM165 506h2v2h-2zM439 526h2v2h-2z"/><path fill="#f00" d="M412 543h2v2h-2zM404 531h2v2h-2z"/><path fill="#ff0" d="M399 441h2v2h-2zM425 530h2v2h-2z"/><path fill="#000" d="M413 514h2v2h-2zM403 534h2v2h-2z"/><path fill="#00f" d="M440 543h2v2h-2z"/><path fill="#f00" d="M431 546h2v2h-2z"/><path fill="#ff0" d="M478 536h2v2h-2z"/><path fill="#000" d="M476 536h2v2h-2z"/><path fill="#00f" d="M462 524h2v2h-2zM455 550h2v2h-2zM342 555h2v2h-2zM467 538h2v2h-2z"/><path fill="#ff0" d="M448 500h2v2h-2z"/><path fill="#000" d="M370 524h2v2h-2z"/><path fill="#00f" d="M459 523h2v2h-2zM465 544h2v2h-2z"/><path fill="#0f0" d="M436 568h2v2h-2z"/><path fill="#000" d="M388 517h2v2h-2zM441 539h2v2h-2zM284 529h2v2h-2z"/><path fill="#f00" d="M344 522h2v2h-2z"/><path fill="#00f" d="M432 551h2v2h-2z"/><path fill="#ff0" d="M428 486h2v2h-2zM424 489h2v2h-2z"/><path fill="#00f" d="M441 521h2v2h-2z"/><path fill="#000" d="M357 532h2v2h-2zM337 512h2v2h-2z"/><path fill="#f00" d="M366 535h2v2h-2z"/><path fill="#00f" d="M418 533h2v2h-2zM455 542h2v2h-2z"/><path fill="#000" d="M386 521h2v2h-2z"/><path fill="#ff0" d="M404 438h2v2h-2z"/><path fill="#000" d="M453 545h2v2h-2z"/><path fill="#00f" d="M369 535h2v2h-2z"/><path fill="#ff0" d="M460 534h2v2h-2z"/><path fill="#f00" d="M427 551h2v2h-2z"/><path fill="#000" d="M415 539h2v2h-2zM183 534h2v2h-2z"/><path fill="#0f0" d="M343 578h2v2h-2z"/><path fill="#000" d="M442 520h2v2h-2z"/><path fill="#00f" d="M453 532h2v2h-2z"/><path fill="#f00" d="M431 521h2v2h-2z"/><path fill="#00f" d="M386 552h2v2h-2zM394 527h2v2h-2z"/><path fill="#f00" d="M428 531h2v2h-2z"/><path fill="#ff0" d="M383 73h2v2h-2z"/><path fill="#f00" d="M438 537h2v2h-2z"/><path fill="#000" d="M411 511h2v2h-2zM168 536h2v2h-2z"/><path fill="#00f" d="M432 535h2v2h-2zM465 544h2v2h-2zM468 523h2v2h-2z"/><path fill="#f00" d="M447 531h2v2h-2z"/><path fill="#000" d="M124 544h2v2h-2z"/><path fill="#f00" d="M480 543h2v2h-2z"/><path fill="#ff0" d="M446 525h2v2h-2z"/><path fill="#0f0" d="M464 540h2v2h-2z"/><path fill="#000" d="M355 530h2v2h-2zM375 527h2v2h-2z"/><path fill="#f00" d="M87 574h2v2h-2zM310 540h2v2h-2z"/><path fill="#00f" d="M432 540h2v2h-2z"/><path fill="#ff0" d="M460 518h2v2h-2z"/><path fill="#00f" d="M454 530h2v2h-2z"/><path fill="#f00" d="M398 555h2v2h-2z"/><path fill="#000" d="M368 536h2v2h-2z"/><path fill="#00f" d="M440 521h2v2h-2z"/><path fill="#ff0" d="M441 495h2v2h-2z"/><path fill="#00f" d="M415 526h2v2h-2z"/><path fill="#000" d="M371 516h2v2h-2z"/><path fill="#f00" d="M423 523h2v2h-2z"/><path fill="#00f" d="M465 551h2v2h-2z"/><path fill="#000" d="M198 556h2v2h-2zM415 521h2v2h-2z"/><path fill="#ff0" d="M477 540h2v2h-2z"/><path fill="#00f" d="M378 522h2v2h-2z"/><path fill="#f00" d="M476 544h2v2h-2z"/><path fill="#000" d="M294 550h2v2h-2z"/><path fill="#00f" d="M408 542h2v2h-2z"/><path fill="#f00" d="M427 544h2v2h-2z"/><path fill="#000" d="M419 528h2v2h-2zM378 537h2v2h-2z"/><path fill="#f00" d="M422 540h2v2h-2z"/><path fill="#000" d="M463 530h2v2h-2z"/><path fill="#0f0" d="M438 550h2v2h-2z"/><path fill="#f00" d="M247 581h2v2h-2z"/><path fill="#00f" d="M428 538h2v2h-2zM432 561h2v2h-2z"/><path fill="#ff0" d="M453 539h2v2h-2z"/><path fill="#0f0" d="M442 543h2v2h-2z"/><path fill="#ff0" d="M403 512h2v2h-2z"/><path fill="#000" d="M369 537h2v2h-2zM374 518h2v2h-2zM381 532h2v2h-2z"/><path fill="#f00" d="M404 547h2v2h-2z"/><path fill="#ff0" d="M353 457h2v2h-2zM471 542h2v2h-2z"/><path fill="#00f" d="M388 527h2v2h-2z"/><path fill="#000" d="M406 513h2v2h-2z"/><path fill="#f00" d="M406 523h2v2h-2zM416 563h2v2h-2z"/><path fill="#000" d="M384 524h2v2h-2z"/><path fill="#f00" d="M460 512h2v2h-2z"/><path fill="#000" d="M364 521h2v2h-2z"/><path fill="#ff0" d="M453 539h2v2h-2z"/><path fill="#00f" d="M435 533h2v2h-2z"/><path fill="#000" d="M389 534h2v2h-2z"/><path fill="#00f" d="M397 540h2v2h-2z"/><path fill="#000" d="M131 545h2v2h-2z"/><path fill="#00f" d="M418 527h2v2h-2z"/><path fill="#000" d="M432 522h2v2h-2z"/><path fill="#00f" d="M376 535h2v2h-2z"/><path fill="#ff0" d="M475 527h2v2h-2z"/><path fill="#000" d="M350 529h2v2h-2z"/><path fill="#f00" d="M387 544h2v2h-2z"/><path fill="#00f" d="M363 550h2v2h-2z"/><path fill="#000" d="M445 523h2v2h-2z"/><path fill="#00f" d="M425 554h2v2h-2z"/><path fill="#000" d="M298 470h2v2h-2z"/><path fill="#00f" d="M433 547h2v2h-2z"/><path fill="#ff0" d="M447 521h2v2h-2zM387 461h2v2h-2z"/><path fill="#f00" d="M364 561h2v2h-2z"/><path fill="#0f0" d="M454 531h2v2h-2z"/><path fill="#ff0" d="M414 504h2v2h-2z"/><path fill="#00f" d="M432 561h2v2h-2z"/><path fill="#ff0" d="M458 527h2v2h-2z"/><path fill="#000" d="M246 547h2v2h-2z"/><path fill="#ff0" d="M452 533h2v2h-2zM431 483h2v2h-2z"/><path fill="#000" d="M393 525h2v2h-2z"/><path fill="#f00" d="M388 534h2v2h-2z"/><path fill="#000" d="M418 530h2v2h-2z"/><path fill="#00f" d="M326 554h2v2h-2z"/><path fill="#f00" d="M447 536h2v2h-2z"/><path fill="#000" d="M399 513h2v2h-2z"/><path fill="#00f" d="M425 524h2v2h-2z"/><path fill="#ff0" d="M303 390h2v2h-2z"/><path fill="#f00" d="M460 540h2v2h-2z"/><path fill="#ff0" d="M430 528h2v2h-2z"/><path fill="#00f" d="M392 551h2v2h-2z"/><path fill="#ff0" d="M395 528h2v2h-2z"/><path fill="#f00" d="M370 533h2v2h-2z"/><path fill="#000" d="M355 526h2v2h-2z"/><path fill="#00f" d="M367 537h2v2h-2z"/><path fill="#f00" d="M417 545h2v2h-2z"/><path fill="#00f" d="M346 566h2v2h-2zM462 536h2v2h-2z"/><path fill="#f00" d="M429 538h2v2h-2z"/><path fill="#ff0" d="M433 515h2v2h-2z"/><path fill="#000" d="M458 542h2v2h-2z"/><path fill="#ff0" d="M416 518h2v2h-2z"/><path fill="#f00" d="M410 543h2v2h-2zM369 534h2v2h-2z"/><path fill="#0f0" d="M430 533h2v2h-2z"/><path fill="#f00" d="M457 524h2v2h-2zM383 535h2v2h-2z"/><path fill="#ff0" d="M289 486h2v2h-2z"/><path fill="#f00" d="M412 540h2v2h-2z"/><path fill="#00f" d="M451 546h2v2h-2z"/><path fill="#f00" d="M330 566h2v2h-2z"/><path fill="#00f" d="M425 550h2v2h-2z"/><path fill="#000" d="M356 517h2v2h-2z"/><path fill="#00f" d="M385 536h2v2h-2z"/><path fill="#0f0" d="M406 543h2v2h-2z"/><path fill="#00f" d="M347 525h2v2h-2zM456 530h2v2h-2z"/><path fill="#ff0" d="M450 495h2v2h-2z"/><path fill="#00f" d="M397 536h2v2h-2z"/><path fill="#000" d="M355 550h2v2h-2z"/><path fill="#f00" d="M458 549h2v2h-2z"/><path fill="#ff0" d="M468 507h2v2h-2zM403 495h2v2h-2z"/><path fill="#000" d="M397 527h2v2h-2zM397 533h2v2h-2zM445 548h2v2h-2z"/><path fill="#00f" d="M376 547h2v2h-2zM461 540h2v2h-2zM441 540h2v2h-2z"/><path fill="#ff0" d="M404 116h2v2h-2z"/><path fill="#0f0" d="M380 525h2v2h-2z"/><path fill="#000" d="M186 528h2v2h-2z"/><path fill="#00f" d="M364 523h2v2h-2z"/><path fill="#f00" d="M458 509h2v2h-2zM368 547h2v2h-2z"/><path fill="#000" d="M440 529h2v2h-2z"/><path fill="#00f" d="M396 528h2v2h-2z"/><path fill="#000" d="M266 547h2v2h-2z"/><path fill="#00f" d="M473 530h2v2h-2z"/><path fill="#ff0" d="M421 530h2v2h-2zM467 533h2v2h-2z"/><path fill="#000" d="M372 525h2v2h-2z"/><path fill="#0f0" d="M424 534h2v2h-2z"/><path fill="#f00" d="M472 516h2v2h-2z"/><path fill="#ff0" d="M497 531h2v2h-2z"/><path fill="#00f" d="M422 526h2v2h-2zM354 545h2v2h-2z"/><path fill="#ff0" d="M434 487h2v2h-2z"/><path fill="#000" d="M410 544h2v2h-2z"/><path fill="#00f" d="M471 525h2v2h-2z"/><path fill="#000" d="M355 537h2v2h-2z"/><path fill="#ff0" d="M464 544h2v2h-2z"/><path fill="#f00" d="M447 541h2v2h-2z"/><path fill="#000" d="M356 554h2v2h-2z"/><path fill="#00f" d="M400 534h2v2h-2z"/><path fill="#000" d="M425 538h2v2h-2z"/><path fill="#f00" d="M387 536h2v2h-2z"/><path fill="#ff0" d="M454 518h2v2h-2z"/><path fill="#00f" d="M464 537h2v2h-2z"/><path fill="#f00" d="M431 535h2v2h-2z"/><path fill="#ff0" d="M462 535h2v2h-2zM403 525h2v2h-2z"/><path fill="#000" d="M398 493h2v2h-2zM424 532h2v2h-2z"/><path fill="#0f0" d="M395 544h2v2h-2z"/><path fill="#f00" d="M348 515h2v2h-2zM479 524h2v2h-2zM368 544h2v2h-2z"/><path fill="#00f" d="M362 525h2v2h-2z"/><path fill="#ff0" d="M376 322h2v2h-2z"/><path fill="#0f0" d="M421 550h2v2h-2z"/><path fill="#f00" d="M447 530h2v2h-2z"/><path fill="#00f" d="M388 535h2v2h-2z"/><path fill="#000" d="M346 544h2v2h-2z"/><path fill="#00f" d="M378 532h2v2h-2z"/><path fill="#000" d="M353 541h2v2h-2zM362 530h2v2h-2z"/><path fill="#f00" d="M402 529h2v2h-2z"/><path fill="#ff0" d="M415 522h2v2h-2z"/><path fill="#f00" d="M444 548h2v2h-2z"/><path fill="#00f" d="M344 547h2v2h-2z"/><path fill="#f00" d="M414 540h2v2h-2z"/><path fill="#00f" d="M372 541h2v2h-2z"/><path fill="#f00" d="M346 523h2v2h-2z"/><path fill="#000" d="M431 523h2v2h-2z"/><path fill="#f00" d="M438 537h2v2h-2z"/><path fill="#000" d="M336 517h2v2h-2z"/><path fill="#ff0" d="M435 527h2v2h-2z"/><path fill="#000" d="M287 548h2v2h-2zM394 512h2v2h-2z"/><path fill="#ff0" d="M428 526h2v2h-2z"/><path fill="#00f" d="M429 530h2v2h-2zM426 536h2v2h-2z"/><path fill="#ff0" d="M459 510h2v2h-2z"/><path fill="#00f" d="M398 542h2v2h-2z"/><path fill="#000" d="M384 528h2v2h-2zM326 491h2v2h-2zM395 519h2v2h-2zM400 544h2v2h-2z"/><path fill="#ff0" d="M395 523h2v2h-2z"/><path fill="#000" d="M365 522h2v2h-2z"/><path fill="#ff0" d="M420 506h2v2h-2z"/><path fill="#00f" d="M310 571h2v2h-2z"/><path fill="#000" d="M202 559h2v2h-2zM392 499h2v2h-2zM379 530h2v2h-2z"/><path fill="#00f" d="M447 549h2v2h-2z"/><path fill="#ff0" d="M415 454h2v2h-2z"/><path fill="#000" d="M398 535h2v2h-2zM467 554h2v2h-2z"/><path fill="#f00" d="M371 550h2v2h-2zM461 526h2v2h-2z"/><path fill="#000" d="M362 524h2v2h-2z"/><path fill="#00f" d="M360 527h2v2h-2z"/><path fill="#ff0" d="M428 534h2v2h-2zM431 551h2v2h-2z"/><path fill="#00f" d="M453 522h2v2h-2z"/><path fill="#000" d="M426 522h2v2h-2z"/><path fill="#00f" d="M368 567h2v2h-2z"/><path fill="#000" d="M354 523h2v2h-2z"/><path fill="#f00" d="M459 522h2v2h-2z"/><path fill="#00f" d="M403 553h2v2h-2zM476 536h2v2h-2zM381 547h2v2h-2zM400 521h2v2h-2z"/><path fill="#000" d="M178 568h2v2h-2z"/><path fill="#ff0" d="M428 543h2v2h-2z"/><path fill="#f00" d="M288 568h2v2h-2zM452 525h2v2h-2z"/><path fill="#ff0" d="M406 535h2v2h-2z"/><path fill="#f00" d="M387 535h2v2h-2z"/><path fill="#00f" d="M393 532h2v2h-2z"/><path fill="#000" d="M295 518h2v2h-2zM400 529h2v2h-2z"/><path fill="#f00" d="M427 534h2v2h-2z"/><path fill="#00f" d="M429 549h2v2h-2z"/><path fill="#000" d="M331 536h2v2h-2z"/><path fill="#f00" d="M450 535h2v2h-2z"/><path fill="#000" d="M383 529h2v2h-2z"/><path fill="#0f0" d="M417 534h2v2h-2z"/><path fill="#ff0" d="M519 546h2v2h-2zM448 541h2v2h-2z"/><path fill="#000" d="M378 527h2v2h-2z"/><path fill="#00f" d="M403 526h2v2h-2z"/><path fill="#f00" d="M349 486h2v2h-2zM443 547h2v2h-2z"/><path fill="#00f" d="M435 543h2v2h-2zM418 544h2v2h-2z"/><path fill="#f00" d="M445 510h2v2h-2z"/><path fill="#000" d="M354 521h2v2h-2z"/><path fill="#0f0" d="M452 528h2v2h-2z"/><path fill="#00f" d="M466 540h2v2h-2z"/><path fill="#000" d="M391 535h2v2h-2z"/><path fill="#ff0" d="M475 524h2v2h-2z"/><path fill="#f00" d="M402 539h2v2h-2z"/><path fill="#000" d="M385 531h2v2h-2z"/><path fill="#00f" d="M442 542h2v2h-2z"/><path fill="#000" d="M346 535h2v2h-2zM404 524h2v2h-2z"/><path fill="#0f0" d="M419 559h2v2h-2z"/><path fill="#00f" d="M434 526h2v2h-2z"/><path fill="#000" d="M291 529h2v2h-2z"/><path fill="#00f" d="M447 527h2v2h-2zM426 533h2v2h-2z"/><path fill="#ff0" d="M420 532h2v2h-2z"/><path fill="#00f" d="M442 538h2v2h-2z"/><path fill="#000" d="M446 524h2v2h-2zM387 547h2v2h-2z"/><path fill="#00f" d="M461 530h2v2h-2z"/><path fill="#0f0" d="M430 527h2v2h-2z"/><path fill="#f00" d="M414 528h2v2h-2z"/><path fill="#000" d="M355 533h2v2h-2z"/><path fill="#ff0" d="M443 487h2v2h-2z"/><path fill="#00f" d="M448 540h2v2h-2z"/><path fill="#f00" d="M413 549h2v2h-2zM430 544h2v2h-2z"/><path fill="#ff0" d="M413 529h2v2h-2z"/><path fill="#000" d="M350 479h2v2h-2z"/><path fill="#f00" d="M409 555h2v2h-2z"/><path fill="#ff0" d="M407 533h2v2h-2z"/><path fill="#000" d="M371 476h2v2h-2zM283 538h2v2h-2z"/><path fill="#00f" d="M454 531h2v2h-2z"/><path fill="#f00" d="M468 510h2v2h-2z"/><path fill="#000" d="M372 536h2v2h-2zM395 535h2v2h-2z"/><path fill="#0f0" d="M478 538h2v2h-2z"/><path fill="#000" d="M346 505h2v2h-2zM406 528h2v2h-2z"/><path fill="#ff0" d="M449 548h2v2h-2z"/><path fill="#000" d="M374 536h2v2h-2z"/><path fill="#00f" d="M439 558h2v2h-2z"/><path fill="#0f0" d="M377 537h2v2h-2z"/><path fill="#00f" d="M467 546h2v2h-2z"/><path fill="#000" d="M398 538h2v2h-2z"/><path fill="#0f0" d="M406 527h2v2h-2z"/><path fill="#00f" d="M360 532h2v2h-2z"/><path fill="#000" d="M385 541h2v2h-2zM375 512h2v2h-2z"/><path fill="#f00" d="M378 558h2v2h-2z"/><path fill="#000" d="M390 532h2v2h-2z"/><path fill="#00f" d="M402 548h2v2h-2z"/><path fill="#ff0" d="M405 528h2v2h-2z"/><path fill="#00f" d="M438 534h2v2h-2zM461 537h2v2h-2z"/><path fill="#f00" d="M424 536h2v2h-2zM334 513h2v2h-2z"/><path fill="#00f" d="M434 535h2v2h-2z"/><path fill="#ff0" d="M387 526h2v2h-2z"/><path fill="#f00" d="M399 559h2v2h-2zM395 526h2v2h-2z"/><path fill="#000" d="M383 535h2v2h-2zM383 528h2v2h-2z"/><path fill="#ff0" d="M451 467h2v2h-2z"/><path fill="#0f0" d="M437 543h2v2h-2z"/><path fill="#000" d="M447 523h2v2h-2z"/><path fill="#00f" d="M458 531h2v2h-2z"/><path fill="#000" d="M384 535h2v2h-2z"/><path fill="#00f" d="M353 554h2v2h-2zM450 541h2v2h-2z"/><path fill="#000" d="M417 541h2v2h-2z"/><path fill="#00f" d="M472 542h2v2h-2z"/><path fill="#f00" d="M445 531h2v2h-2z"/><path fill="#ff0" d="M505 552h2v2h-2z"/><path fill="#0f0" d="M447 538h2v2h-2z"/><path fill="#f00" d="M389 548h2v2h-2z"/><path fill="#ff0" d="M457 512h2v2h-2zM375 241h2v2h-2z"/><path fill="#0f0" d="M394 537h2v2h-2z"/><path fill="#ff0" d="M439 536h2v2h-2z"/><path fill="#000" d="M332 533h2v2h-2z"/><path fill="#ff0" d="M480 537h2v2h-2z"/><path fill="#f00" d="M392 538h2v2h-2z"/><path fill="#ff0" d="M479 532h2v2h-2z"/><path fill="#00f" d="M450 537h2v2h-2z"/><path fill="#f00" d="M380 550h2v2h-2zM457 505h2v2h-2z"/><path fill="#000" d="M374 540h2v2h-2z"/><path fill="#00f" d="M434 543h2v2h-2z"/><path fill="#000" d="M456 544h2v2h-2z"/><path fill="#0f0" d="M448 540h2v2h-2z"/><path fill="#00f" d="M463 524h2v2h-2zM423 516h2v2h-2z"/><path fill="#f00" d="M367 547h2v2h-2z"/><path fill="#00f" d="M434 507h2v2h-2z"/><path fill="#000" d="M367 531h2v2h-2z"/><path fill="#ff0" d="M435 520h2v2h-2z"/><path fill="#f00" d="M395 541h2v2h-2z"/><path fill="#000" d="M342 469h2v2h-2zM230 526h2v2h-2z"/><path fill="#00f" d="M455 531h2v2h-2z"/><path fill="#000" d="M411 537h2v2h-2z"/><path fill="#00f" d="M454 559h2v2h-2z"/><path fill="#f00" d="M415 547h2v2h-2z"/><path fill="#000" d="M445 523h2v2h-2z"/><path fill="#00f" d="M450 533h2v2h-2z"/><path fill="#f00" d="M428 536h2v2h-2z"/><path fill="#00f" d="M472 543h2v2h-2z"/><path fill="#000" d="M359 534h2v2h-2z"/><path fill="#00f" d="M439 583h2v2h-2z"/><path fill="#ff0" d="M436 485h2v2h-2z"/><path fill="#0f0" d="M451 541h2v2h-2z"/><path fill="#000" d="M376 525h2v2h-2zM403 534h2v2h-2z"/><path fill="#00f" d="M412 541h2v2h-2z"/><path fill="#0f0" d="M389 543h2v2h-2zM371 551h2v2h-2z"/><path fill="#000" d="M360 525h2v2h-2zM440 521h2v2h-2zM348 542h2v2h-2z"/><path fill="#f00" d="M442 543h2v2h-2z"/><path fill="#00f" d="M138 585h2v2h-2z"/><path fill="#f00" d="M435 509h2v2h-2z"/><path fill="#ff0" d="M453 493h2v2h-2z"/><path fill="#000" d="M352 543h2v2h-2z"/><path fill="#00f" d="M251 512h2v2h-2z"/><path fill="#000" d="M376 544h2v2h-2z"/><path fill="#0f0" d="M469 527h2v2h-2z"/><path fill="#ff0" d="M410 494h2v2h-2z"/><path fill="#f00" d="M440 541h2v2h-2z"/><path fill="#00f" d="M418 548h2v2h-2z"/><path fill="#ff0" d="M395 526h2v2h-2zM433 523h2v2h-2z"/><path fill="#f00" d="M334 551h2v2h-2z"/><path fill="#00f" d="M455 540h2v2h-2z"/><path fill="#000" d="M347 535h2v2h-2z"/><path fill="#00f" d="M464 538h2v2h-2zM475 546h2v2h-2z"/><path fill="#0f0" d="M392 536h2v2h-2z"/><path fill="#f00" d="M372 542h2v2h-2z"/><path fill="#00f" d="M367 535h2v2h-2zM404 521h2v2h-2z"/><path fill="#000" d="M374 524h2v2h-2z"/><path fill="#f00" d="M424 542h2v2h-2z"/><path fill="#00f" d="M468 528h2v2h-2z"/><path fill="#0f0" d="M340 540h2v2h-2z"/><path fill="#00f" d="M435 564h2v2h-2zM440 544h2v2h-2zM479 526h2v2h-2z"/><path fill="#000" d="M431 523h2v2h-2zM377 535h2v2h-2zM387 528h2v2h-2zM416 518h2v2h-2z"/><path fill="#f00" d="M304 562h2v2h-2z"/><path fill="#ff0" d="M392 551h2v2h-2z"/><path fill="#0f0" d="M403 513h2v2h-2z"/><path fill="#000" d="M250 524h2v2h-2z"/><path fill="#ff0" d="M458 497h2v2h-2zM521 530h2v2h-2z"/><path fill="#f00" d="M466 516h2v2h-2z"/><path fill="#ff0" d="M477 513h2v2h-2z"/><path fill="#000" d="M305 517h2v2h-2z"/><path fill="#ff0" d="M473 549h2v2h-2z"/><path fill="#000" d="M332 501h2v2h-2zM401 544h2v2h-2z"/><path fill="#ff0" d="M459 522h2v2h-2z"/><path fill="#00f" d="M456 547h2v2h-2z"/><path fill="#ff0" d="M411 537h2v2h-2z"/><path fill="#000" d="M249 548h2v2h-2z"/><path fill="#0f0" d="M328 569h2v2h-2z"/><path fill="#000" d="M373 515h2v2h-2zM345 553h2v2h-2z"/><path fill="#0f0" d="M382 544h2v2h-2z"/><path fill="#000" d="M351 535h2v2h-2z"/><path fill="#00f" d="M382 525h2v2h-2z"/><path fill="#000" d="M370 535h2v2h-2z"/><path fill="#f00" d="M389 540h2v2h-2zM332 548h2v2h-2z"/><path fill="#00f" d="M432 546h2v2h-2z"/><path fill="#ff0" d="M400 502h2v2h-2z"/><path fill="#000" d="M392 509h2v2h-2zM184 572h2v2h-2z"/><path fill="#ff0" d="M443 508h2v2h-2z"/><path fill="#f00" d="M431 535h2v2h-2z"/><path fill="#ff0" d="M461 535h2v2h-2z"/><path fill="#f00" d="M362 523h2v2h-2z"/><path fill="#000" d="M354 526h2v2h-2zM405 525h2v2h-2z"/><path fill="#0f0" d="M340 559h2v2h-2z"/><path fill="#000" d="M355 525h2v2h-2z"/><path fill="#f00" d="M444 524h2v2h-2z"/><path fill="#ff0" d="M416 523h2v2h-2z"/><path fill="#00f" d="M466 522h2v2h-2z"/><path fill="#000" d="M409 521h2v2h-2z"/><path fill="#f00" d="M466 531h2v2h-2z"/><path fill="#ff0" d="M452 550h2v2h-2z"/><path fill="#00f" d="M429 517h2v2h-2z"/><path fill="#ff0" d="M378 483h2v2h-2z"/><path fill="#00f" d="M462 543h2v2h-2z"/><path fill="#000" d="M346 537h2v2h-2zM422 525h2v2h-2z"/><path fill="#ff0" d="M425 520h2v2h-2z"/><path fill="#00f" d="M459 524h2v2h-2z"/><path fill="#000" d="M448 526h2v2h-2z"/><path fill="#0f0" d="M351 541h2v2h-2z"/><path fill="#ff0" d="M453 526h2v2h-2z"/><path fill="#0f0" d="M412 527h2v2h-2z"/><path fill="#00f" d="M472 536h2v2h-2z"/><path fill="#f00" d="M331 572h2v2h-2z"/><path fill="#ff0" d="M457 554h2v2h-2z"/><path fill="#f00" d="M371 554h2v2h-2zM357 554h2v2h-2z"/><path fill="#000" d="M345 510h2v2h-2z"/><path fill="#00f" d="M431 538h2v2h-2z"/><path fill="#000" d="M364 549h2v2h-2z"/><path fill="#0f0" d="M405 537h2v2h-2z"/><path fill="#000" d="M371 539h2v2h-2z"/><path fill="#ff0" d="M441 541h2v2h-2z"/><path fill="#f00" d="M301 577h2v2h-2z"/><path fill="#ff0" d="M435 509h2v2h-2z"/><path fill="#00f" d="M410 541h2v2h-2z"/><path fill="#ff0" d="M423 445h2v2h-2z"/></svg>
<div class="t" id="title">HSTPHOT: Field fornax_u30m01</div>
<div class="t" id="all">All CCDs</div>
<div class="t" id="xlab">F555W</div>
<div class="t" id="ylab">Chi vs. magnitude</div>
<div class="yl" style="top:631px">0</div><div class="yl" style="top:574px">0.5</div><div class="yl" style="top:517px">1</div><div class="yl" style="top:461px">1.5</div><div class="yl" style="top:404px">2</div><div class="yl" style="top:347px">2.5</div><div class="yl" style="top:290px">3</div><div class="yl" style="top:234px">3.5</div><div class="yl" style="top:177px">4</div><div class="yl" style="top:120px">4.5</div><div class="yl" style="top:64px">5</div><div class="xl" style="left:51px">19</div><div class="xl" style="left:102px">20</div><div class="xl" style="left:153px">21</div><div class="xl" style="left:204px">22</div><div class="xl" style="left:255px">23</div><div class="xl" style="left:306px">24</div><div class="xl" style="left:357px">25</div><div class="xl" style="left:408px">26</div><div class="xl" style="left:459px">27</div><div class="xl" style="left:510px">28</div><div class="xl" style="left:561px">29</div>
</body></html>
